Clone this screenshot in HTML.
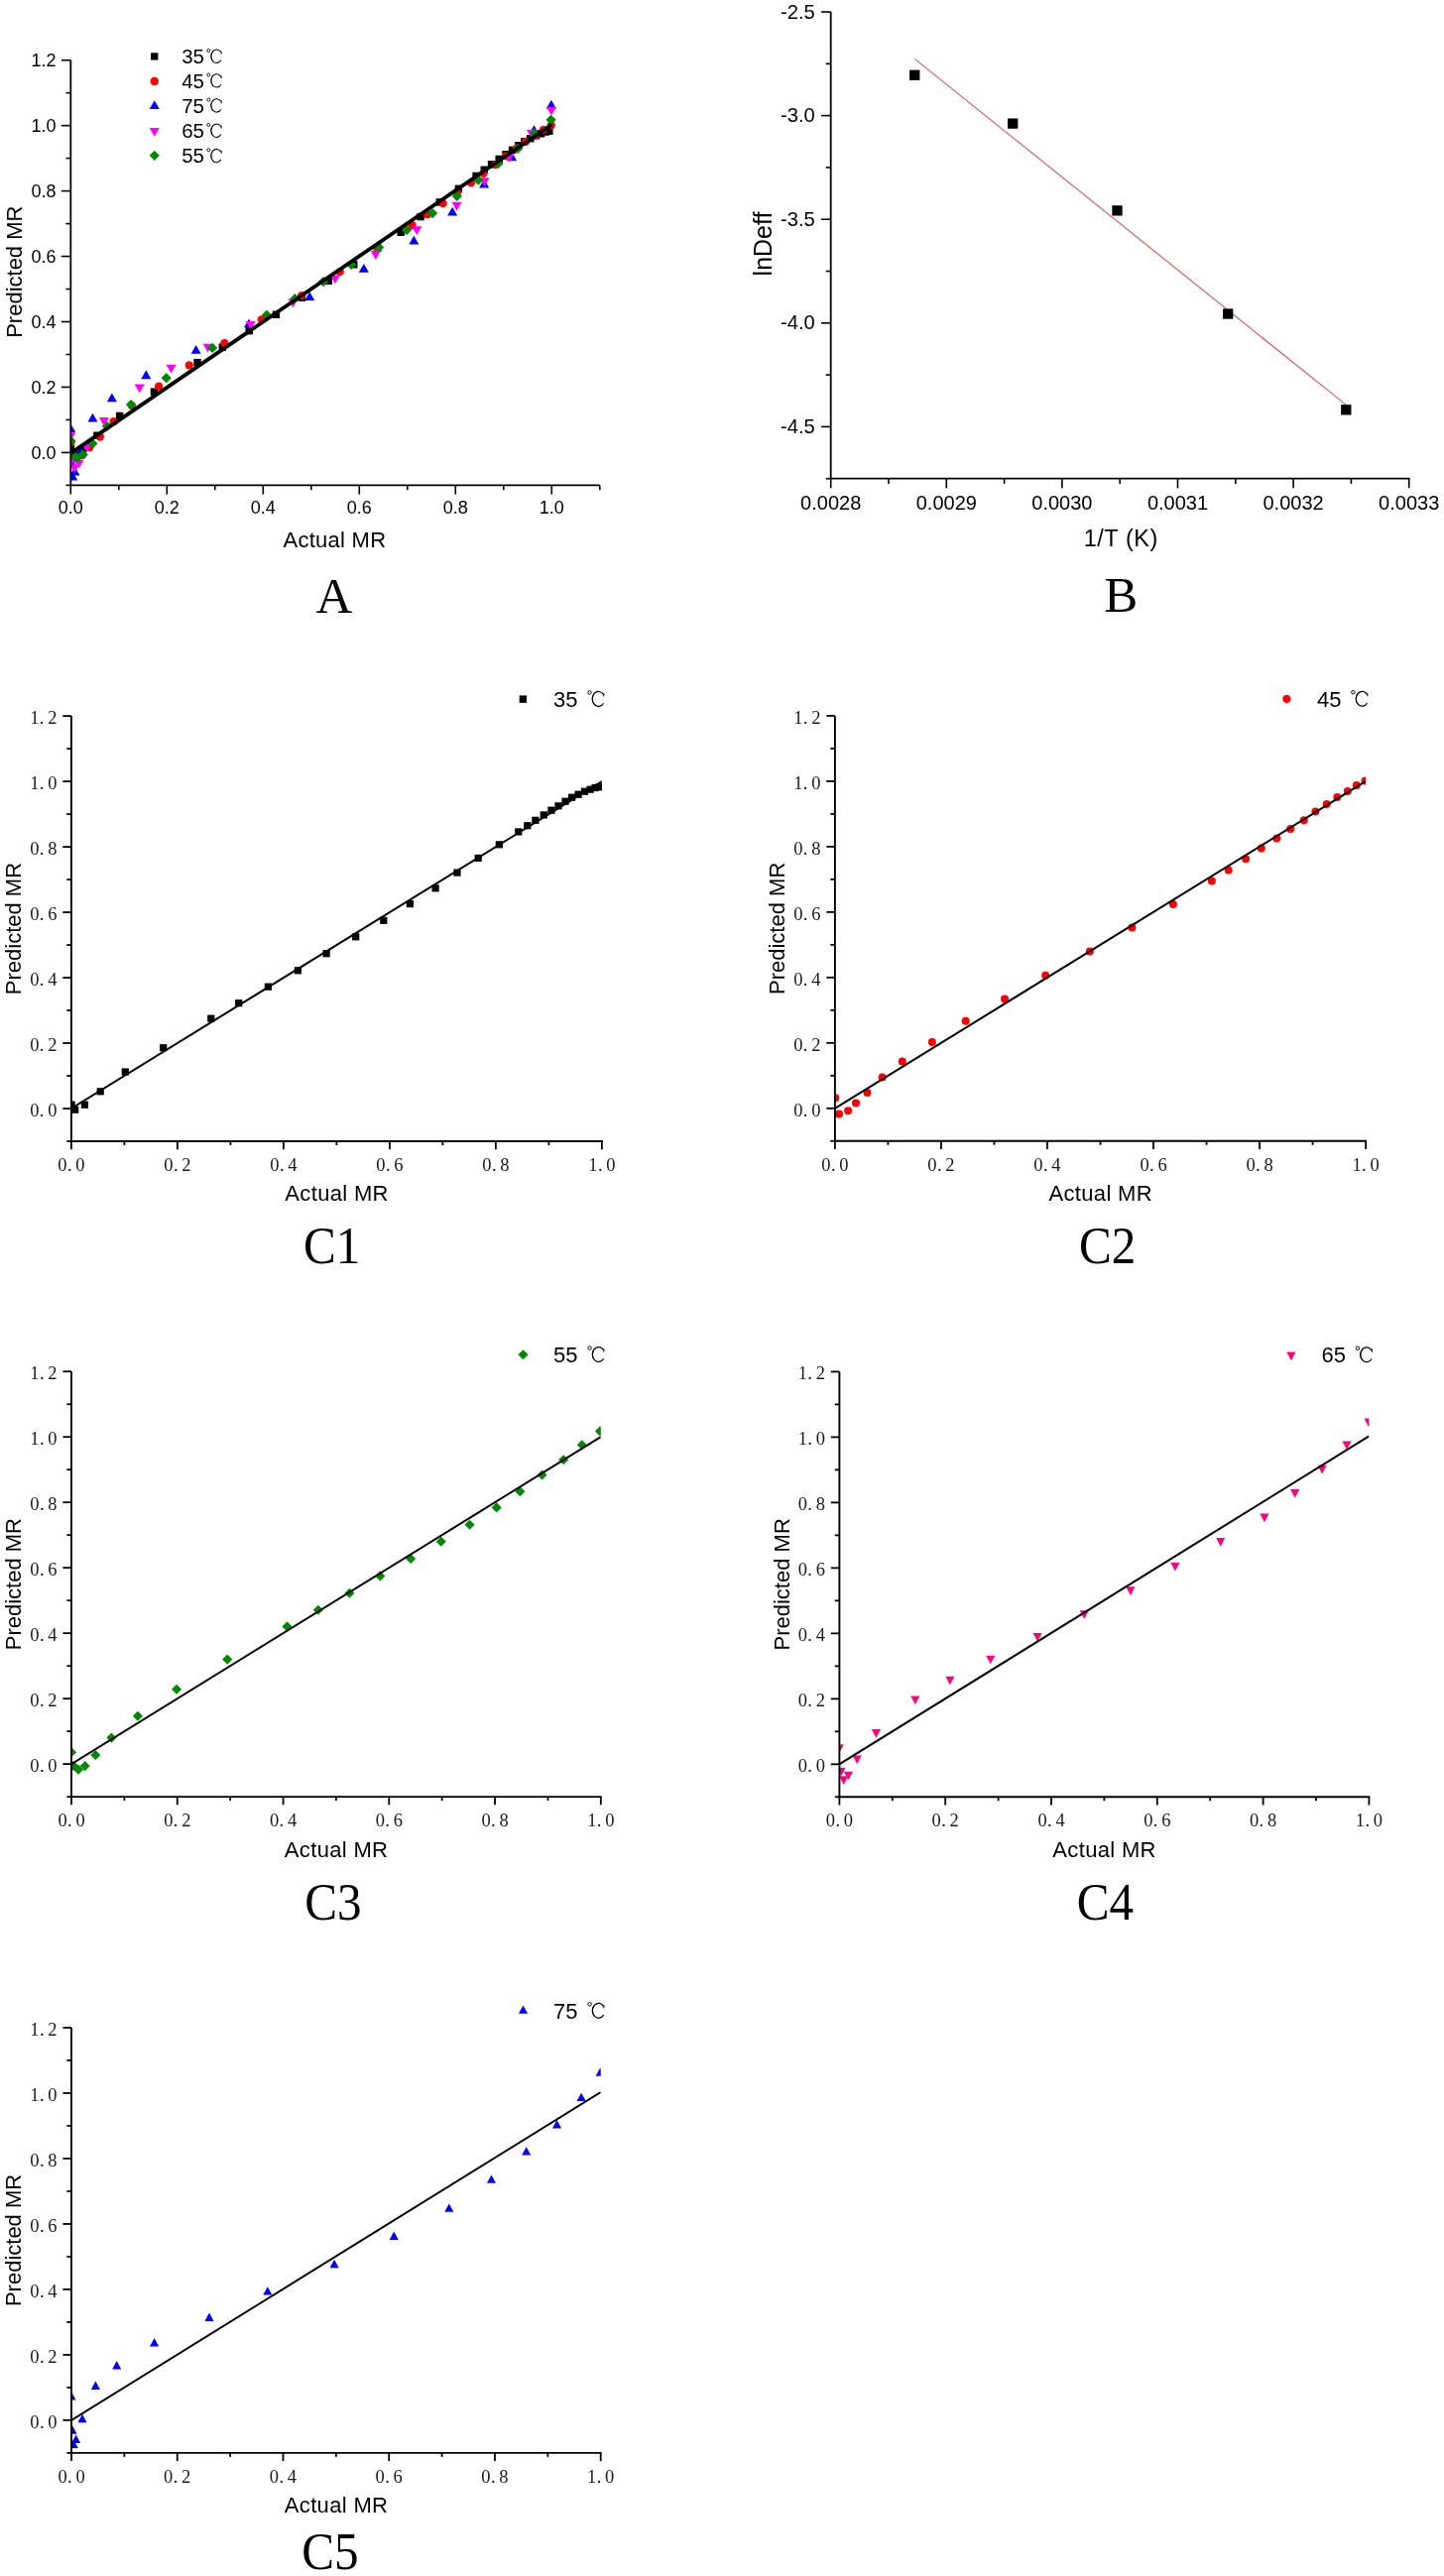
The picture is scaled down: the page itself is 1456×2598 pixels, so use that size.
<!DOCTYPE html>
<html><head><meta charset="utf-8"><title>Figure</title>
<style>
html,body{margin:0;padding:0;background:#fff;}
body{width:1456px;height:2598px;overflow:hidden;font-family:"Liberation Sans",sans-serif;}
svg{display:block;will-change:transform;}
</style></head><body>
<svg width="1456" height="2598" viewBox="0 0 1456 2598">
<rect width="1456" height="2598" fill="#fff"/>
<defs><clipPath id="clipA"><rect x="71.3" y="40.7" width="553.5" height="448.68"/></clipPath><clipPath id="clipC1"><rect x="71.9" y="722.12" width="535" height="428.87"/></clipPath><clipPath id="clipC2"><rect x="841.9" y="721.92" width="535.2" height="428.87"/></clipPath><clipPath id="clipC3"><rect x="72" y="1383.22" width="533.8" height="428.87"/></clipPath><clipPath id="clipC4"><rect x="846.4" y="1383.42" width="534" height="428.87"/></clipPath><clipPath id="clipC5"><rect x="72" y="2045.02" width="533.7" height="428.87"/></clipPath></defs>
<g clip-path="url(#clipA)"><rect x="67.78" y="448.8" width="7.4" height="7.4" fill="#000000"/><rect x="71.04" y="453.9" width="7.4" height="7.4" fill="#000000"/><rect x="79.84" y="448.9" width="7.4" height="7.4" fill="#000000"/><rect x="94.16" y="435.51" width="7.4" height="7.4" fill="#000000"/><rect x="116.92" y="415.72" width="7.4" height="7.4" fill="#000000"/><rect x="151.73" y="391.43" width="7.4" height="7.4" fill="#000000"/><rect x="195.33" y="361.94" width="7.4" height="7.4" fill="#000000"/><rect x="220.62" y="346.45" width="7.4" height="7.4" fill="#000000"/><rect x="247.55" y="329.96" width="7.4" height="7.4" fill="#000000"/><rect x="274.74" y="313.56" width="7.4" height="7.4" fill="#000000"/><rect x="300.76" y="296.47" width="7.4" height="7.4" fill="#000000"/><rect x="327.6" y="279.58" width="7.4" height="7.4" fill="#000000"/><rect x="353.07" y="263.09" width="7.4" height="7.4" fill="#000000"/><rect x="377.18" y="246.39" width="7.4" height="7.4" fill="#000000"/><rect x="400.48" y="230.6" width="7.4" height="7.4" fill="#000000"/><rect x="420.34" y="214.91" width="7.4" height="7.4" fill="#000000"/><rect x="439.55" y="200.21" width="7.4" height="7.4" fill="#000000"/><rect x="458.68" y="186.62" width="7.4" height="7.4" fill="#000000"/><rect x="476.36" y="173.73" width="7.4" height="7.4" fill="#000000"/><rect x="484.52" y="167.53" width="7.4" height="7.4" fill="#000000"/><rect x="491.86" y="162.13" width="7.4" height="7.4" fill="#000000"/><rect x="499.48" y="156.73" width="7.4" height="7.4" fill="#000000"/><rect x="506.37" y="152.04" width="7.4" height="7.4" fill="#000000"/><rect x="512.8" y="147.64" width="7.4" height="7.4" fill="#000000"/><rect x="519.15" y="143.04" width="7.4" height="7.4" fill="#000000"/><rect x="525.13" y="139.04" width="7.4" height="7.4" fill="#000000"/><rect x="531.02" y="136.04" width="7.4" height="7.4" fill="#000000"/><rect x="536.83" y="133.05" width="7.4" height="7.4" fill="#000000"/><rect x="541.9" y="131.05" width="7.4" height="7.4" fill="#000000"/><rect x="546.44" y="129.35" width="7.4" height="7.4" fill="#000000"/><rect x="550.15" y="128.55" width="7.4" height="7.4" fill="#000000"/><circle cx="71.66" cy="445.8" r="4.15" fill="#ff0000"/><circle cx="75.02" cy="462" r="4.15" fill="#ff0000"/><circle cx="83.26" cy="458.8" r="4.15" fill="#ff0000"/><circle cx="90.42" cy="451.1" r="4.15" fill="#ff0000"/><circle cx="100.84" cy="440.51" r="4.15" fill="#ff0000"/><circle cx="114.53" cy="425.21" r="4.15" fill="#ff0000"/><circle cx="132.83" cy="409.02" r="4.15" fill="#ff0000"/><circle cx="160.11" cy="389.63" r="4.15" fill="#ff0000"/><circle cx="190.74" cy="368.34" r="4.15" fill="#ff0000"/><circle cx="226.35" cy="346.05" r="4.15" fill="#ff0000"/><circle cx="263.69" cy="322.36" r="4.15" fill="#ff0000"/><circle cx="304.1" cy="298.17" r="4.15" fill="#ff0000"/><circle cx="342.71" cy="274.18" r="4.15" fill="#ff0000"/><circle cx="380.32" cy="250.59" r="4.15" fill="#ff0000"/><circle cx="415.66" cy="227.2" r="4.15" fill="#ff0000"/><circle cx="430.88" cy="216.21" r="4.15" fill="#ff0000"/><circle cx="446.65" cy="205.01" r="4.15" fill="#ff0000"/><circle cx="460.88" cy="194.22" r="4.15" fill="#ff0000"/><circle cx="474.92" cy="184.32" r="4.15" fill="#ff0000"/><circle cx="487.43" cy="174.83" r="4.15" fill="#ff0000"/><circle cx="499.75" cy="166.03" r="4.15" fill="#ff0000"/><circle cx="510.36" cy="157.34" r="4.15" fill="#ff0000"/><circle cx="520.6" cy="149.84" r="4.15" fill="#ff0000"/><circle cx="530.2" cy="142.64" r="4.15" fill="#ff0000"/><circle cx="539.72" cy="136.65" r="4.15" fill="#ff0000"/><circle cx="547.87" cy="130.85" r="4.15" fill="#ff0000"/><circle cx="555.76" cy="126.25" r="4.15" fill="#ff0000"/><path d="M71.25 427.31L76.3 436.11L66.2 436.11Z" fill="#0000ff"/><path d="M72.21 461.6L77.26 470.4L67.16 470.4Z" fill="#0000ff"/><path d="M75.48 470.79L80.53 479.59L70.43 479.59Z" fill="#0000ff"/><path d="M73.3 475.79L78.35 484.59L68.25 484.59Z" fill="#0000ff"/><path d="M81.3 450.1L86.35 458.9L76.25 458.9Z" fill="#0000ff"/><path d="M93.47 416.82L98.52 425.62L88.42 425.62Z" fill="#0000ff"/><path d="M112.83 396.43L117.88 405.23L107.78 405.23Z" fill="#0000ff"/><path d="M147.27 373.34L152.32 382.14L142.22 382.14Z" fill="#0000ff"/><path d="M197.62 347.95L202.67 356.75L192.57 356.75Z" fill="#0000ff"/><path d="M251.05 321.56L256.1 330.36L246 330.36Z" fill="#0000ff"/><path d="M312.21 294.17L317.26 302.97L307.16 302.97Z" fill="#0000ff"/><path d="M366.83 265.98L371.88 274.78L361.78 274.78Z" fill="#0000ff"/><path d="M417.35 237.8L422.4 246.6L412.3 246.6Z" fill="#0000ff"/><path d="M456.16 208.81L461.21 217.61L451.11 217.61Z" fill="#0000ff"/><path d="M488.14 180.62L493.19 189.42L483.09 189.42Z" fill="#0000ff"/><path d="M516.13 153.54L521.18 162.34L511.08 162.34Z" fill="#0000ff"/><path d="M538.49 126.15L543.54 134.95L533.44 134.95Z" fill="#0000ff"/><path d="M555.85 100.86L560.9 109.66L550.8 109.66Z" fill="#0000ff"/><path d="M66.16 436.21L76.26 436.21L71.21 445.01Z" fill="#ff00ff"/><path d="M67.79 459.7L77.89 459.7L72.84 468.5Z" fill="#ff00ff"/><path d="M74.42 463.69L84.52 463.69L79.47 472.49Z" fill="#ff00ff"/><path d="M70.16 468.29L80.26 468.29L75.21 477.09Z" fill="#ff00ff"/><path d="M82.42 447.5L92.52 447.5L87.47 456.3Z" fill="#ff00ff"/><path d="M99.85 421.11L109.95 421.11L104.9 429.91Z" fill="#ff00ff"/><path d="M135.64 387.53L145.74 387.53L140.69 396.33Z" fill="#ff00ff"/><path d="M167.52 367.74L177.62 367.74L172.57 376.54Z" fill="#ff00ff"/><path d="M204.57 346.75L214.67 346.75L209.62 355.55Z" fill="#ff00ff"/><path d="M247.63 324.06L257.73 324.06L252.68 332.86Z" fill="#ff00ff"/><path d="M290.4 301.37L300.5 301.37L295.45 310.17Z" fill="#ff00ff"/><path d="M332.82 277.38L342.92 277.38L337.87 286.18Z" fill="#ff00ff"/><path d="M373.69 253.09L383.79 253.09L378.74 261.89Z" fill="#ff00ff"/><path d="M415.29 228.2L425.39 228.2L420.34 237Z" fill="#ff00ff"/><path d="M455.43 203.71L465.53 203.71L460.48 212.51Z" fill="#ff00ff"/><path d="M483.4 179.22L493.5 179.22L488.45 188.02Z" fill="#ff00ff"/><path d="M508.29 154.94L518.39 154.94L513.34 163.74Z" fill="#ff00ff"/><path d="M530.91 130.65L541.01 130.65L535.96 139.45Z" fill="#ff00ff"/><path d="M550.89 107.76L560.99 107.76L555.94 116.56Z" fill="#ff00ff"/><path d="M71.3 439.46L76.45 444.61L71.3 449.76L66.15 444.61Z" fill="#008a00"/><path d="M73.39 453.15L78.54 458.3L73.39 463.45L68.24 458.3Z" fill="#008a00"/><path d="M77.66 456.85L82.81 462L77.66 467.15L72.51 462Z" fill="#008a00"/><path d="M83.75 453.25L88.9 458.4L83.75 463.55L78.6 458.4Z" fill="#008a00"/><path d="M93.38 442.15L98.53 447.3L93.38 452.45L88.23 447.3Z" fill="#008a00"/><path d="M108.01 424.76L113.16 429.91L108.01 435.06L102.86 429.91Z" fill="#008a00"/><path d="M132.08 402.97L137.23 408.12L132.08 413.27L126.93 408.12Z" fill="#008a00"/><path d="M167.7 375.98L172.85 381.13L167.7 386.28L162.55 381.13Z" fill="#008a00"/><path d="M214.13 345.8L219.28 350.95L214.13 356.1L208.98 350.95Z" fill="#008a00"/><path d="M268.92 312.61L274.07 317.76L268.92 322.91L263.77 317.76Z" fill="#008a00"/><path d="M297.35 296.02L302.5 301.17L297.35 306.32L292.2 301.17Z" fill="#008a00"/><path d="M326.07 278.93L331.22 284.08L326.07 289.23L320.92 284.08Z" fill="#008a00"/><path d="M354.14 261.64L359.29 266.79L354.14 271.94L348.99 266.79Z" fill="#008a00"/><path d="M382.13 244.24L387.28 249.39L382.13 254.54L376.98 249.39Z" fill="#008a00"/><path d="M410.02 226.95L415.17 232.1L410.02 237.25L404.87 232.1Z" fill="#008a00"/><path d="M436.09 209.96L441.24 215.11L436.09 220.26L430.94 215.11Z" fill="#008a00"/><path d="M460.81 192.67L465.96 197.82L460.81 202.97L455.66 197.82Z" fill="#008a00"/><path d="M482.34 176.57L487.49 181.72L482.34 186.87L477.19 181.72Z" fill="#008a00"/><path d="M502.51 159.78L507.66 164.93L502.51 170.08L497.36 164.93Z" fill="#008a00"/><path d="M522.14 144.59L527.29 149.74L522.14 154.89L516.99 149.74Z" fill="#008a00"/><path d="M539.04 129.5L544.19 134.65L539.04 139.8L533.89 134.65Z" fill="#008a00"/><path d="M555.57 115.7L560.72 120.85L555.57 126L550.42 120.85Z" fill="#008a00"/><line x1="71.3" y1="457.06" x2="556.3" y2="125.83" stroke="#000" stroke-width="3.8"/></g>
<line x1="71.3" y1="60.7" x2="71.3" y2="490.27" stroke="#000" stroke-width="1.8" stroke-linecap="butt"/>
<line x1="70.4" y1="489.38" x2="604.8" y2="489.38" stroke="#000" stroke-width="1.8" stroke-linecap="butt"/>
<line x1="66.5" y1="489.38" x2="71.3" y2="489.38" stroke="#000" stroke-width="1.6" stroke-linecap="butt"/>
<line x1="61.9" y1="456.4" x2="71.3" y2="456.4" stroke="#000" stroke-width="1.6" stroke-linecap="butt"/>
<line x1="66.5" y1="423.42" x2="71.3" y2="423.42" stroke="#000" stroke-width="1.6" stroke-linecap="butt"/>
<line x1="61.9" y1="390.45" x2="71.3" y2="390.45" stroke="#000" stroke-width="1.6" stroke-linecap="butt"/>
<line x1="66.5" y1="357.47" x2="71.3" y2="357.47" stroke="#000" stroke-width="1.6" stroke-linecap="butt"/>
<line x1="61.9" y1="324.5" x2="71.3" y2="324.5" stroke="#000" stroke-width="1.6" stroke-linecap="butt"/>
<line x1="66.5" y1="291.52" x2="71.3" y2="291.52" stroke="#000" stroke-width="1.6" stroke-linecap="butt"/>
<line x1="61.9" y1="258.55" x2="71.3" y2="258.55" stroke="#000" stroke-width="1.6" stroke-linecap="butt"/>
<line x1="66.5" y1="225.57" x2="71.3" y2="225.57" stroke="#000" stroke-width="1.6" stroke-linecap="butt"/>
<line x1="61.9" y1="192.6" x2="71.3" y2="192.6" stroke="#000" stroke-width="1.6" stroke-linecap="butt"/>
<line x1="66.5" y1="159.62" x2="71.3" y2="159.62" stroke="#000" stroke-width="1.6" stroke-linecap="butt"/>
<line x1="61.9" y1="126.65" x2="71.3" y2="126.65" stroke="#000" stroke-width="1.6" stroke-linecap="butt"/>
<line x1="66.5" y1="93.67" x2="71.3" y2="93.67" stroke="#000" stroke-width="1.6" stroke-linecap="butt"/>
<line x1="61.9" y1="60.7" x2="71.3" y2="60.7" stroke="#000" stroke-width="1.6" stroke-linecap="butt"/>
<text x="56.6" y="462.6" font-size="18" text-anchor="end" font-family='"Liberation Sans", sans-serif' fill="#000">0.0</text>
<text x="56.6" y="396.65" font-size="18" text-anchor="end" font-family='"Liberation Sans", sans-serif' fill="#000">0.2</text>
<text x="56.6" y="330.7" font-size="18" text-anchor="end" font-family='"Liberation Sans", sans-serif' fill="#000">0.4</text>
<text x="56.6" y="264.75" font-size="18" text-anchor="end" font-family='"Liberation Sans", sans-serif' fill="#000">0.6</text>
<text x="56.6" y="198.8" font-size="18" text-anchor="end" font-family='"Liberation Sans", sans-serif' fill="#000">0.8</text>
<text x="56.6" y="132.85" font-size="18" text-anchor="end" font-family='"Liberation Sans", sans-serif' fill="#000">1.0</text>
<text x="56.6" y="66.9" font-size="18" text-anchor="end" font-family='"Liberation Sans", sans-serif' fill="#000">1.2</text>
<line x1="71.3" y1="489.38" x2="71.3" y2="498.57" stroke="#000" stroke-width="1.6" stroke-linecap="butt"/>
<line x1="119.8" y1="489.38" x2="119.8" y2="494.18" stroke="#000" stroke-width="1.6" stroke-linecap="butt"/>
<line x1="168.3" y1="489.38" x2="168.3" y2="498.57" stroke="#000" stroke-width="1.6" stroke-linecap="butt"/>
<line x1="216.8" y1="489.38" x2="216.8" y2="494.18" stroke="#000" stroke-width="1.6" stroke-linecap="butt"/>
<line x1="265.3" y1="489.38" x2="265.3" y2="498.57" stroke="#000" stroke-width="1.6" stroke-linecap="butt"/>
<line x1="313.8" y1="489.38" x2="313.8" y2="494.18" stroke="#000" stroke-width="1.6" stroke-linecap="butt"/>
<line x1="362.3" y1="489.38" x2="362.3" y2="498.57" stroke="#000" stroke-width="1.6" stroke-linecap="butt"/>
<line x1="410.8" y1="489.38" x2="410.8" y2="494.18" stroke="#000" stroke-width="1.6" stroke-linecap="butt"/>
<line x1="459.3" y1="489.38" x2="459.3" y2="498.57" stroke="#000" stroke-width="1.6" stroke-linecap="butt"/>
<line x1="507.8" y1="489.38" x2="507.8" y2="494.18" stroke="#000" stroke-width="1.6" stroke-linecap="butt"/>
<line x1="556.3" y1="489.38" x2="556.3" y2="498.57" stroke="#000" stroke-width="1.6" stroke-linecap="butt"/>
<line x1="604.8" y1="489.38" x2="604.8" y2="494.18" stroke="#000" stroke-width="1.6" stroke-linecap="butt"/>
<text x="71.3" y="518.17" font-size="18" text-anchor="middle" font-family='"Liberation Sans", sans-serif' fill="#000">0.0</text>
<text x="168.3" y="518.17" font-size="18" text-anchor="middle" font-family='"Liberation Sans", sans-serif' fill="#000">0.2</text>
<text x="265.3" y="518.17" font-size="18" text-anchor="middle" font-family='"Liberation Sans", sans-serif' fill="#000">0.4</text>
<text x="362.3" y="518.17" font-size="18" text-anchor="middle" font-family='"Liberation Sans", sans-serif' fill="#000">0.6</text>
<text x="459.3" y="518.17" font-size="18" text-anchor="middle" font-family='"Liberation Sans", sans-serif' fill="#000">0.8</text>
<text x="556.3" y="518.17" font-size="18" text-anchor="middle" font-family='"Liberation Sans", sans-serif' fill="#000">1.0</text>
<text x="337.4" y="552.3" font-size="22" text-anchor="middle" font-family='"Liberation Sans", sans-serif' fill="#000" letter-spacing="0.27">Actual MR</text>
<text x="0" y="0" font-size="22" text-anchor="middle" font-family='"Liberation Sans", sans-serif' transform="translate(22.4 274.2) rotate(-90)">Predicted MR</text>
<rect x="152.1" y="53.25" width="7.3" height="7.3" fill="#000000"/>
<text x="183.2" y="64" font-size="20.5" text-anchor="start" font-family='"Liberation Sans", sans-serif' fill="#000">35</text>
<circle cx="210.3" cy="50.93" r="1.57" fill="none" stroke="#000" stroke-width="0.85"/><path d="M222.85 52.83A5.55 6.67 0 1 0 222.9 60.57" fill="none" stroke="#000" stroke-width="1.03"/><path d="M215.31 51.22A5.55 6.67 0 0 0 215.31 62.28" fill="none" stroke="#000" stroke-width="0.72"/><line x1="223.16" y1="51.58" x2="223.16" y2="54.62" stroke="#000" stroke-width="0.9"/>
<circle cx="155.75" cy="82.1" r="4.25" fill="#ff0000"/>
<text x="183.2" y="88.6" font-size="20.5" text-anchor="start" font-family='"Liberation Sans", sans-serif' fill="#000">45</text>
<circle cx="210.3" cy="75.53" r="1.57" fill="none" stroke="#000" stroke-width="0.85"/><path d="M222.85 77.43A5.55 6.67 0 1 0 222.9 85.17" fill="none" stroke="#000" stroke-width="1.03"/><path d="M215.31 75.82A5.55 6.67 0 0 0 215.31 86.88" fill="none" stroke="#000" stroke-width="0.72"/><line x1="223.16" y1="76.18" x2="223.16" y2="79.22" stroke="#000" stroke-width="0.9"/>
<path d="M155.75 101.25L160.8 109.95L150.7 109.95Z" fill="#0000ff"/>
<text x="183.2" y="113.7" font-size="20.5" text-anchor="start" font-family='"Liberation Sans", sans-serif' fill="#000">75</text>
<circle cx="210.3" cy="100.63" r="1.57" fill="none" stroke="#000" stroke-width="0.85"/><path d="M222.85 102.53A5.55 6.67 0 1 0 222.9 110.27" fill="none" stroke="#000" stroke-width="1.03"/><path d="M215.31 100.92A5.55 6.67 0 0 0 215.31 111.98" fill="none" stroke="#000" stroke-width="0.72"/><line x1="223.16" y1="101.28" x2="223.16" y2="104.32" stroke="#000" stroke-width="0.9"/>
<path d="M150.7 128.95L160.8 128.95L155.75 137.65Z" fill="#ff00ff"/>
<text x="183.2" y="139" font-size="20.5" text-anchor="start" font-family='"Liberation Sans", sans-serif' fill="#000">65</text>
<circle cx="210.3" cy="125.93" r="1.57" fill="none" stroke="#000" stroke-width="0.85"/><path d="M222.85 127.83A5.55 6.67 0 1 0 222.9 135.57" fill="none" stroke="#000" stroke-width="1.03"/><path d="M215.31 126.22A5.55 6.67 0 0 0 215.31 137.28" fill="none" stroke="#000" stroke-width="0.72"/><line x1="223.16" y1="126.58" x2="223.16" y2="129.62" stroke="#000" stroke-width="0.9"/>
<path d="M155.75 151.7L160.8 156.8L155.75 161.9L150.7 156.8Z" fill="#008a00"/>
<text x="183.2" y="164.3" font-size="20.5" text-anchor="start" font-family='"Liberation Sans", sans-serif' fill="#000">55</text>
<circle cx="210.3" cy="151.23" r="1.57" fill="none" stroke="#000" stroke-width="0.85"/><path d="M222.85 153.13A5.55 6.67 0 1 0 222.9 160.87" fill="none" stroke="#000" stroke-width="1.03"/><path d="M215.31 151.52A5.55 6.67 0 0 0 215.31 162.58" fill="none" stroke="#000" stroke-width="0.72"/><line x1="223.16" y1="151.88" x2="223.16" y2="154.92" stroke="#000" stroke-width="0.9"/>
<text x="336.8" y="617.6" font-size="51" text-anchor="middle" font-family='"Liberation Serif", serif' fill="#000">A</text>
<line x1="922.3" y1="59.4" x2="1357.3" y2="408.4" stroke="#e25e5e" stroke-width="1.2" stroke-linecap="butt"/>
<rect x="917.1" y="70.6" width="10.3" height="10.3" fill="#000"/>
<rect x="1016.05" y="119.45" width="10.3" height="10.3" fill="#000"/>
<rect x="1121.35" y="207.25" width="10.3" height="10.3" fill="#000"/>
<rect x="1233.05" y="311.35" width="10.3" height="10.3" fill="#000"/>
<rect x="1352.15" y="408.15" width="10.3" height="10.3" fill="#000"/>
<line x1="837.7" y1="12" x2="837.7" y2="483.6" stroke="#000" stroke-width="1.8" stroke-linecap="butt"/>
<line x1="836.8" y1="482.7" x2="1421.6" y2="482.7" stroke="#000" stroke-width="1.8" stroke-linecap="butt"/>
<line x1="828.1" y1="12" x2="837.7" y2="12" stroke="#000" stroke-width="1.6" stroke-linecap="butt"/>
<line x1="832.7" y1="64.3" x2="837.7" y2="64.3" stroke="#000" stroke-width="1.6" stroke-linecap="butt"/>
<line x1="828.1" y1="116.6" x2="837.7" y2="116.6" stroke="#000" stroke-width="1.6" stroke-linecap="butt"/>
<line x1="832.7" y1="168.9" x2="837.7" y2="168.9" stroke="#000" stroke-width="1.6" stroke-linecap="butt"/>
<line x1="828.1" y1="221.2" x2="837.7" y2="221.2" stroke="#000" stroke-width="1.6" stroke-linecap="butt"/>
<line x1="832.7" y1="273.5" x2="837.7" y2="273.5" stroke="#000" stroke-width="1.6" stroke-linecap="butt"/>
<line x1="828.1" y1="325.8" x2="837.7" y2="325.8" stroke="#000" stroke-width="1.6" stroke-linecap="butt"/>
<line x1="832.7" y1="378.1" x2="837.7" y2="378.1" stroke="#000" stroke-width="1.6" stroke-linecap="butt"/>
<line x1="828.1" y1="430.4" x2="837.7" y2="430.4" stroke="#000" stroke-width="1.6" stroke-linecap="butt"/>
<line x1="832.7" y1="482.7" x2="837.7" y2="482.7" stroke="#000" stroke-width="1.6" stroke-linecap="butt"/>
<text x="821.8" y="18.6" font-size="20.2" text-anchor="end" font-family='"Liberation Sans", sans-serif' fill="#000">-2.5</text>
<text x="821.8" y="123.2" font-size="20.2" text-anchor="end" font-family='"Liberation Sans", sans-serif' fill="#000">-3.0</text>
<text x="821.8" y="227.8" font-size="20.2" text-anchor="end" font-family='"Liberation Sans", sans-serif' fill="#000">-3.5</text>
<text x="821.8" y="332.4" font-size="20.2" text-anchor="end" font-family='"Liberation Sans", sans-serif' fill="#000">-4.0</text>
<text x="821.8" y="437" font-size="20.2" text-anchor="end" font-family='"Liberation Sans", sans-serif' fill="#000">-4.5</text>
<line x1="837.7" y1="482.7" x2="837.7" y2="492.3" stroke="#000" stroke-width="1.6" stroke-linecap="butt"/>
<line x1="896" y1="482.7" x2="896" y2="487.9" stroke="#000" stroke-width="1.6" stroke-linecap="butt"/>
<line x1="954.3" y1="482.7" x2="954.3" y2="492.3" stroke="#000" stroke-width="1.6" stroke-linecap="butt"/>
<line x1="1012.6" y1="482.7" x2="1012.6" y2="487.9" stroke="#000" stroke-width="1.6" stroke-linecap="butt"/>
<line x1="1070.9" y1="482.7" x2="1070.9" y2="492.3" stroke="#000" stroke-width="1.6" stroke-linecap="butt"/>
<line x1="1129.2" y1="482.7" x2="1129.2" y2="487.9" stroke="#000" stroke-width="1.6" stroke-linecap="butt"/>
<line x1="1187.5" y1="482.7" x2="1187.5" y2="492.3" stroke="#000" stroke-width="1.6" stroke-linecap="butt"/>
<line x1="1245.8" y1="482.7" x2="1245.8" y2="487.9" stroke="#000" stroke-width="1.6" stroke-linecap="butt"/>
<line x1="1304.1" y1="482.7" x2="1304.1" y2="492.3" stroke="#000" stroke-width="1.6" stroke-linecap="butt"/>
<line x1="1362.4" y1="482.7" x2="1362.4" y2="487.9" stroke="#000" stroke-width="1.6" stroke-linecap="butt"/>
<line x1="1420.7" y1="482.7" x2="1420.7" y2="492.3" stroke="#000" stroke-width="1.6" stroke-linecap="butt"/>
<text x="837.7" y="513.5" font-size="20" text-anchor="middle" font-family='"Liberation Sans", sans-serif' fill="#000">0.0028</text>
<text x="954.3" y="513.5" font-size="20" text-anchor="middle" font-family='"Liberation Sans", sans-serif' fill="#000">0.0029</text>
<text x="1070.9" y="513.5" font-size="20" text-anchor="middle" font-family='"Liberation Sans", sans-serif' fill="#000">0.0030</text>
<text x="1187.5" y="513.5" font-size="20" text-anchor="middle" font-family='"Liberation Sans", sans-serif' fill="#000">0.0031</text>
<text x="1304.1" y="513.5" font-size="20" text-anchor="middle" font-family='"Liberation Sans", sans-serif' fill="#000">0.0032</text>
<text x="1420.7" y="513.5" font-size="20" text-anchor="middle" font-family='"Liberation Sans", sans-serif' fill="#000">0.0033</text>
<text x="1130.3" y="551.2" font-size="23.5" text-anchor="middle" font-family='"Liberation Sans", sans-serif' fill="#000" letter-spacing="0.55">1/T (K)</text>
<text x="0" y="0" font-size="25" text-anchor="middle" font-family='"Liberation Sans", sans-serif' transform="translate(777.9 246.0) rotate(-90)">lnDeff</text>
<text x="1130.3" y="617.4" font-size="51" text-anchor="middle" font-family='"Liberation Serif", serif' fill="#000">B</text>
<g clip-path="url(#clipC1)"><rect x="68.5" y="1110.5" width="7.2" height="7.2" fill="#000000"/><rect x="72.1" y="1115.6" width="7.2" height="7.2" fill="#000000"/><rect x="81.8" y="1110.6" width="7.2" height="7.2" fill="#000000"/><rect x="97.6" y="1097.2" width="7.2" height="7.2" fill="#000000"/><rect x="122.7" y="1077.4" width="7.2" height="7.2" fill="#000000"/><rect x="161.1" y="1053.1" width="7.2" height="7.2" fill="#000000"/><rect x="209.2" y="1023.6" width="7.2" height="7.2" fill="#000000"/><rect x="237.1" y="1008.1" width="7.2" height="7.2" fill="#000000"/><rect x="266.8" y="991.6" width="7.2" height="7.2" fill="#000000"/><rect x="296.8" y="975.2" width="7.2" height="7.2" fill="#000000"/><rect x="325.5" y="958.1" width="7.2" height="7.2" fill="#000000"/><rect x="355.1" y="941.2" width="7.2" height="7.2" fill="#000000"/><rect x="383.2" y="924.7" width="7.2" height="7.2" fill="#000000"/><rect x="409.8" y="908" width="7.2" height="7.2" fill="#000000"/><rect x="435.5" y="892.2" width="7.2" height="7.2" fill="#000000"/><rect x="457.4" y="876.5" width="7.2" height="7.2" fill="#000000"/><rect x="478.6" y="861.8" width="7.2" height="7.2" fill="#000000"/><rect x="499.7" y="848.2" width="7.2" height="7.2" fill="#000000"/><rect x="519.2" y="835.3" width="7.2" height="7.2" fill="#000000"/><rect x="528.2" y="829.1" width="7.2" height="7.2" fill="#000000"/><rect x="536.3" y="823.7" width="7.2" height="7.2" fill="#000000"/><rect x="544.7" y="818.3" width="7.2" height="7.2" fill="#000000"/><rect x="552.3" y="813.6" width="7.2" height="7.2" fill="#000000"/><rect x="559.4" y="809.2" width="7.2" height="7.2" fill="#000000"/><rect x="566.4" y="804.6" width="7.2" height="7.2" fill="#000000"/><rect x="573" y="800.6" width="7.2" height="7.2" fill="#000000"/><rect x="579.5" y="797.6" width="7.2" height="7.2" fill="#000000"/><rect x="585.9" y="794.6" width="7.2" height="7.2" fill="#000000"/><rect x="591.5" y="792.6" width="7.2" height="7.2" fill="#000000"/><rect x="596.5" y="790.9" width="7.2" height="7.2" fill="#000000"/><rect x="600.6" y="790.1" width="7.2" height="7.2" fill="#000000"/><line x1="71.9" y1="1118" x2="606.9" y2="788.1" stroke="#000" stroke-width="2"/></g>
<line x1="71.9" y1="722.12" x2="71.9" y2="1151.94" stroke="#000" stroke-width="1.9" stroke-linecap="butt"/>
<line x1="70.95" y1="1150.99" x2="607.85" y2="1150.99" stroke="#000" stroke-width="1.9" stroke-linecap="butt"/>
<line x1="67.3" y1="1150.99" x2="71.9" y2="1150.99" stroke="#000" stroke-width="1.8" stroke-linecap="butt"/>
<line x1="63.3" y1="1118" x2="71.9" y2="1118" stroke="#000" stroke-width="1.8" stroke-linecap="butt"/>
<line x1="67.3" y1="1085.01" x2="71.9" y2="1085.01" stroke="#000" stroke-width="1.8" stroke-linecap="butt"/>
<line x1="63.3" y1="1052.02" x2="71.9" y2="1052.02" stroke="#000" stroke-width="1.8" stroke-linecap="butt"/>
<line x1="67.3" y1="1019.03" x2="71.9" y2="1019.03" stroke="#000" stroke-width="1.8" stroke-linecap="butt"/>
<line x1="63.3" y1="986.04" x2="71.9" y2="986.04" stroke="#000" stroke-width="1.8" stroke-linecap="butt"/>
<line x1="67.3" y1="953.05" x2="71.9" y2="953.05" stroke="#000" stroke-width="1.8" stroke-linecap="butt"/>
<line x1="63.3" y1="920.06" x2="71.9" y2="920.06" stroke="#000" stroke-width="1.8" stroke-linecap="butt"/>
<line x1="67.3" y1="887.07" x2="71.9" y2="887.07" stroke="#000" stroke-width="1.8" stroke-linecap="butt"/>
<line x1="63.3" y1="854.08" x2="71.9" y2="854.08" stroke="#000" stroke-width="1.8" stroke-linecap="butt"/>
<line x1="67.3" y1="821.09" x2="71.9" y2="821.09" stroke="#000" stroke-width="1.8" stroke-linecap="butt"/>
<line x1="63.3" y1="788.1" x2="71.9" y2="788.1" stroke="#000" stroke-width="1.8" stroke-linecap="butt"/>
<line x1="67.3" y1="755.11" x2="71.9" y2="755.11" stroke="#000" stroke-width="1.8" stroke-linecap="butt"/>
<line x1="63.3" y1="722.12" x2="71.9" y2="722.12" stroke="#000" stroke-width="1.8" stroke-linecap="butt"/>
<text x="34.8" y="1126" font-size="18.5" text-anchor="middle" font-family='"Liberation Serif", serif' fill="#1a1a1a">0</text><text x="42.1" y="1126" font-size="18.5" text-anchor="middle" font-family='"Liberation Serif", serif' fill="#1a1a1a">.</text><text x="52.8" y="1126" font-size="18.5" text-anchor="middle" font-family='"Liberation Serif", serif' fill="#1a1a1a">0</text>
<text x="34.8" y="1060.02" font-size="18.5" text-anchor="middle" font-family='"Liberation Serif", serif' fill="#1a1a1a">0</text><text x="42.1" y="1060.02" font-size="18.5" text-anchor="middle" font-family='"Liberation Serif", serif' fill="#1a1a1a">.</text><text x="52.8" y="1060.02" font-size="18.5" text-anchor="middle" font-family='"Liberation Serif", serif' fill="#1a1a1a">2</text>
<text x="34.8" y="994.04" font-size="18.5" text-anchor="middle" font-family='"Liberation Serif", serif' fill="#1a1a1a">0</text><text x="42.1" y="994.04" font-size="18.5" text-anchor="middle" font-family='"Liberation Serif", serif' fill="#1a1a1a">.</text><text x="52.8" y="994.04" font-size="18.5" text-anchor="middle" font-family='"Liberation Serif", serif' fill="#1a1a1a">4</text>
<text x="34.8" y="928.06" font-size="18.5" text-anchor="middle" font-family='"Liberation Serif", serif' fill="#1a1a1a">0</text><text x="42.1" y="928.06" font-size="18.5" text-anchor="middle" font-family='"Liberation Serif", serif' fill="#1a1a1a">.</text><text x="52.8" y="928.06" font-size="18.5" text-anchor="middle" font-family='"Liberation Serif", serif' fill="#1a1a1a">6</text>
<text x="34.8" y="862.08" font-size="18.5" text-anchor="middle" font-family='"Liberation Serif", serif' fill="#1a1a1a">0</text><text x="42.1" y="862.08" font-size="18.5" text-anchor="middle" font-family='"Liberation Serif", serif' fill="#1a1a1a">.</text><text x="52.8" y="862.08" font-size="18.5" text-anchor="middle" font-family='"Liberation Serif", serif' fill="#1a1a1a">8</text>
<text x="34.8" y="796.1" font-size="18.5" text-anchor="middle" font-family='"Liberation Serif", serif' fill="#1a1a1a">1</text><text x="42.1" y="796.1" font-size="18.5" text-anchor="middle" font-family='"Liberation Serif", serif' fill="#1a1a1a">.</text><text x="52.8" y="796.1" font-size="18.5" text-anchor="middle" font-family='"Liberation Serif", serif' fill="#1a1a1a">0</text>
<text x="34.8" y="730.12" font-size="18.5" text-anchor="middle" font-family='"Liberation Serif", serif' fill="#1a1a1a">1</text><text x="42.1" y="730.12" font-size="18.5" text-anchor="middle" font-family='"Liberation Serif", serif' fill="#1a1a1a">.</text><text x="52.8" y="730.12" font-size="18.5" text-anchor="middle" font-family='"Liberation Serif", serif' fill="#1a1a1a">2</text>
<line x1="71.9" y1="1150.99" x2="71.9" y2="1159.19" stroke="#000" stroke-width="1.8" stroke-linecap="butt"/>
<line x1="125.4" y1="1150.99" x2="125.4" y2="1154.99" stroke="#000" stroke-width="1.8" stroke-linecap="butt"/>
<line x1="178.9" y1="1150.99" x2="178.9" y2="1159.19" stroke="#000" stroke-width="1.8" stroke-linecap="butt"/>
<line x1="232.4" y1="1150.99" x2="232.4" y2="1154.99" stroke="#000" stroke-width="1.8" stroke-linecap="butt"/>
<line x1="285.9" y1="1150.99" x2="285.9" y2="1159.19" stroke="#000" stroke-width="1.8" stroke-linecap="butt"/>
<line x1="339.4" y1="1150.99" x2="339.4" y2="1154.99" stroke="#000" stroke-width="1.8" stroke-linecap="butt"/>
<line x1="392.9" y1="1150.99" x2="392.9" y2="1159.19" stroke="#000" stroke-width="1.8" stroke-linecap="butt"/>
<line x1="446.4" y1="1150.99" x2="446.4" y2="1154.99" stroke="#000" stroke-width="1.8" stroke-linecap="butt"/>
<line x1="499.9" y1="1150.99" x2="499.9" y2="1159.19" stroke="#000" stroke-width="1.8" stroke-linecap="butt"/>
<line x1="553.4" y1="1150.99" x2="553.4" y2="1154.99" stroke="#000" stroke-width="1.8" stroke-linecap="butt"/>
<line x1="606.9" y1="1150.99" x2="606.9" y2="1159.19" stroke="#000" stroke-width="1.8" stroke-linecap="butt"/>
<text x="62.9" y="1180.79" font-size="18.5" text-anchor="middle" font-family='"Liberation Serif", serif' fill="#1a1a1a">0</text><text x="70.2" y="1180.79" font-size="18.5" text-anchor="middle" font-family='"Liberation Serif", serif' fill="#1a1a1a">.</text><text x="80.9" y="1180.79" font-size="18.5" text-anchor="middle" font-family='"Liberation Serif", serif' fill="#1a1a1a">0</text>
<text x="169.9" y="1180.79" font-size="18.5" text-anchor="middle" font-family='"Liberation Serif", serif' fill="#1a1a1a">0</text><text x="177.2" y="1180.79" font-size="18.5" text-anchor="middle" font-family='"Liberation Serif", serif' fill="#1a1a1a">.</text><text x="187.9" y="1180.79" font-size="18.5" text-anchor="middle" font-family='"Liberation Serif", serif' fill="#1a1a1a">2</text>
<text x="276.9" y="1180.79" font-size="18.5" text-anchor="middle" font-family='"Liberation Serif", serif' fill="#1a1a1a">0</text><text x="284.2" y="1180.79" font-size="18.5" text-anchor="middle" font-family='"Liberation Serif", serif' fill="#1a1a1a">.</text><text x="294.9" y="1180.79" font-size="18.5" text-anchor="middle" font-family='"Liberation Serif", serif' fill="#1a1a1a">4</text>
<text x="383.9" y="1180.79" font-size="18.5" text-anchor="middle" font-family='"Liberation Serif", serif' fill="#1a1a1a">0</text><text x="391.2" y="1180.79" font-size="18.5" text-anchor="middle" font-family='"Liberation Serif", serif' fill="#1a1a1a">.</text><text x="401.9" y="1180.79" font-size="18.5" text-anchor="middle" font-family='"Liberation Serif", serif' fill="#1a1a1a">6</text>
<text x="490.9" y="1180.79" font-size="18.5" text-anchor="middle" font-family='"Liberation Serif", serif' fill="#1a1a1a">0</text><text x="498.2" y="1180.79" font-size="18.5" text-anchor="middle" font-family='"Liberation Serif", serif' fill="#1a1a1a">.</text><text x="508.9" y="1180.79" font-size="18.5" text-anchor="middle" font-family='"Liberation Serif", serif' fill="#1a1a1a">8</text>
<text x="597.9" y="1180.79" font-size="18.5" text-anchor="middle" font-family='"Liberation Serif", serif' fill="#1a1a1a">1</text><text x="605.2" y="1180.79" font-size="18.5" text-anchor="middle" font-family='"Liberation Serif", serif' fill="#1a1a1a">.</text><text x="615.9" y="1180.79" font-size="18.5" text-anchor="middle" font-family='"Liberation Serif", serif' fill="#1a1a1a">0</text>
<text x="339.6" y="1211.49" font-size="22" text-anchor="middle" font-family='"Liberation Sans", sans-serif' fill="#000" letter-spacing="0.33">Actual MR</text>
<text x="0" y="0" font-size="22" text-anchor="middle" font-family='"Liberation Sans", sans-serif' transform="translate(21 936.56) rotate(-90)">Predicted MR</text>
<rect x="523.7" y="701.42" width="7.4" height="7.4" fill="#000000"/>
<text x="557.9" y="713.02" font-size="22" text-anchor="start" font-family='"Liberation Sans", sans-serif' fill="#000">35</text>
<circle cx="594.45" cy="698.42" r="1.75" fill="none" stroke="#000" stroke-width="0.95"/><path d="M608.47 700.54A6.2 7.45 0 1 0 608.53 709.19" fill="none" stroke="#000" stroke-width="1.25"/><path d="M600.04 698.74A6.2 7.45 0 0 0 600.04 711.1" fill="none" stroke="#000" stroke-width="0.88"/><line x1="608.82" y1="699.14" x2="608.82" y2="702.54" stroke="#000" stroke-width="1"/>
<text x="334.75" y="1273.7" font-size="51.8" text-anchor="middle" font-family='"Liberation Serif", serif' fill="#000" transform="translate(334.75 0) scale(0.95 1) translate(-334.75 0)">C1</text>
<g clip-path="url(#clipC2)"><circle cx="842.3" cy="1107.2" r="4" fill="#ff0000"/><circle cx="846" cy="1123.4" r="4" fill="#ff0000"/><circle cx="855.1" cy="1120.2" r="4" fill="#ff0000"/><circle cx="863" cy="1112.5" r="4" fill="#ff0000"/><circle cx="874.5" cy="1101.9" r="4" fill="#ff0000"/><circle cx="889.6" cy="1086.6" r="4" fill="#ff0000"/><circle cx="909.8" cy="1070.4" r="4" fill="#ff0000"/><circle cx="939.9" cy="1051" r="4" fill="#ff0000"/><circle cx="973.7" cy="1029.7" r="4" fill="#ff0000"/><circle cx="1013" cy="1007.4" r="4" fill="#ff0000"/><circle cx="1054.2" cy="983.7" r="4" fill="#ff0000"/><circle cx="1098.8" cy="959.5" r="4" fill="#ff0000"/><circle cx="1141.4" cy="935.5" r="4" fill="#ff0000"/><circle cx="1182.9" cy="911.9" r="4" fill="#ff0000"/><circle cx="1221.9" cy="888.5" r="4" fill="#ff0000"/><circle cx="1238.7" cy="877.5" r="4" fill="#ff0000"/><circle cx="1256.1" cy="866.3" r="4" fill="#ff0000"/><circle cx="1271.8" cy="855.5" r="4" fill="#ff0000"/><circle cx="1287.3" cy="845.6" r="4" fill="#ff0000"/><circle cx="1301.1" cy="836.1" r="4" fill="#ff0000"/><circle cx="1314.7" cy="827.3" r="4" fill="#ff0000"/><circle cx="1326.4" cy="818.6" r="4" fill="#ff0000"/><circle cx="1337.7" cy="811.1" r="4" fill="#ff0000"/><circle cx="1348.3" cy="803.9" r="4" fill="#ff0000"/><circle cx="1358.8" cy="797.9" r="4" fill="#ff0000"/><circle cx="1367.8" cy="792.1" r="4" fill="#ff0000"/><circle cx="1376.5" cy="787.5" r="4" fill="#ff0000"/><line x1="841.9" y1="1117.8" x2="1377.1" y2="787.9" stroke="#000" stroke-width="2"/></g>
<line x1="841.9" y1="721.92" x2="841.9" y2="1151.74" stroke="#000" stroke-width="1.9" stroke-linecap="butt"/>
<line x1="840.95" y1="1150.79" x2="1378.05" y2="1150.79" stroke="#000" stroke-width="1.9" stroke-linecap="butt"/>
<line x1="837.3" y1="1150.79" x2="841.9" y2="1150.79" stroke="#000" stroke-width="1.8" stroke-linecap="butt"/>
<line x1="833.3" y1="1117.8" x2="841.9" y2="1117.8" stroke="#000" stroke-width="1.8" stroke-linecap="butt"/>
<line x1="837.3" y1="1084.81" x2="841.9" y2="1084.81" stroke="#000" stroke-width="1.8" stroke-linecap="butt"/>
<line x1="833.3" y1="1051.82" x2="841.9" y2="1051.82" stroke="#000" stroke-width="1.8" stroke-linecap="butt"/>
<line x1="837.3" y1="1018.83" x2="841.9" y2="1018.83" stroke="#000" stroke-width="1.8" stroke-linecap="butt"/>
<line x1="833.3" y1="985.84" x2="841.9" y2="985.84" stroke="#000" stroke-width="1.8" stroke-linecap="butt"/>
<line x1="837.3" y1="952.85" x2="841.9" y2="952.85" stroke="#000" stroke-width="1.8" stroke-linecap="butt"/>
<line x1="833.3" y1="919.86" x2="841.9" y2="919.86" stroke="#000" stroke-width="1.8" stroke-linecap="butt"/>
<line x1="837.3" y1="886.87" x2="841.9" y2="886.87" stroke="#000" stroke-width="1.8" stroke-linecap="butt"/>
<line x1="833.3" y1="853.88" x2="841.9" y2="853.88" stroke="#000" stroke-width="1.8" stroke-linecap="butt"/>
<line x1="837.3" y1="820.89" x2="841.9" y2="820.89" stroke="#000" stroke-width="1.8" stroke-linecap="butt"/>
<line x1="833.3" y1="787.9" x2="841.9" y2="787.9" stroke="#000" stroke-width="1.8" stroke-linecap="butt"/>
<line x1="837.3" y1="754.91" x2="841.9" y2="754.91" stroke="#000" stroke-width="1.8" stroke-linecap="butt"/>
<line x1="833.3" y1="721.92" x2="841.9" y2="721.92" stroke="#000" stroke-width="1.8" stroke-linecap="butt"/>
<text x="804.8" y="1125.8" font-size="18.5" text-anchor="middle" font-family='"Liberation Serif", serif' fill="#1a1a1a">0</text><text x="812.1" y="1125.8" font-size="18.5" text-anchor="middle" font-family='"Liberation Serif", serif' fill="#1a1a1a">.</text><text x="822.8" y="1125.8" font-size="18.5" text-anchor="middle" font-family='"Liberation Serif", serif' fill="#1a1a1a">0</text>
<text x="804.8" y="1059.82" font-size="18.5" text-anchor="middle" font-family='"Liberation Serif", serif' fill="#1a1a1a">0</text><text x="812.1" y="1059.82" font-size="18.5" text-anchor="middle" font-family='"Liberation Serif", serif' fill="#1a1a1a">.</text><text x="822.8" y="1059.82" font-size="18.5" text-anchor="middle" font-family='"Liberation Serif", serif' fill="#1a1a1a">2</text>
<text x="804.8" y="993.84" font-size="18.5" text-anchor="middle" font-family='"Liberation Serif", serif' fill="#1a1a1a">0</text><text x="812.1" y="993.84" font-size="18.5" text-anchor="middle" font-family='"Liberation Serif", serif' fill="#1a1a1a">.</text><text x="822.8" y="993.84" font-size="18.5" text-anchor="middle" font-family='"Liberation Serif", serif' fill="#1a1a1a">4</text>
<text x="804.8" y="927.86" font-size="18.5" text-anchor="middle" font-family='"Liberation Serif", serif' fill="#1a1a1a">0</text><text x="812.1" y="927.86" font-size="18.5" text-anchor="middle" font-family='"Liberation Serif", serif' fill="#1a1a1a">.</text><text x="822.8" y="927.86" font-size="18.5" text-anchor="middle" font-family='"Liberation Serif", serif' fill="#1a1a1a">6</text>
<text x="804.8" y="861.88" font-size="18.5" text-anchor="middle" font-family='"Liberation Serif", serif' fill="#1a1a1a">0</text><text x="812.1" y="861.88" font-size="18.5" text-anchor="middle" font-family='"Liberation Serif", serif' fill="#1a1a1a">.</text><text x="822.8" y="861.88" font-size="18.5" text-anchor="middle" font-family='"Liberation Serif", serif' fill="#1a1a1a">8</text>
<text x="804.8" y="795.9" font-size="18.5" text-anchor="middle" font-family='"Liberation Serif", serif' fill="#1a1a1a">1</text><text x="812.1" y="795.9" font-size="18.5" text-anchor="middle" font-family='"Liberation Serif", serif' fill="#1a1a1a">.</text><text x="822.8" y="795.9" font-size="18.5" text-anchor="middle" font-family='"Liberation Serif", serif' fill="#1a1a1a">0</text>
<text x="804.8" y="729.92" font-size="18.5" text-anchor="middle" font-family='"Liberation Serif", serif' fill="#1a1a1a">1</text><text x="812.1" y="729.92" font-size="18.5" text-anchor="middle" font-family='"Liberation Serif", serif' fill="#1a1a1a">.</text><text x="822.8" y="729.92" font-size="18.5" text-anchor="middle" font-family='"Liberation Serif", serif' fill="#1a1a1a">2</text>
<line x1="841.9" y1="1150.79" x2="841.9" y2="1158.99" stroke="#000" stroke-width="1.8" stroke-linecap="butt"/>
<line x1="895.42" y1="1150.79" x2="895.42" y2="1154.79" stroke="#000" stroke-width="1.8" stroke-linecap="butt"/>
<line x1="948.94" y1="1150.79" x2="948.94" y2="1158.99" stroke="#000" stroke-width="1.8" stroke-linecap="butt"/>
<line x1="1002.46" y1="1150.79" x2="1002.46" y2="1154.79" stroke="#000" stroke-width="1.8" stroke-linecap="butt"/>
<line x1="1055.98" y1="1150.79" x2="1055.98" y2="1158.99" stroke="#000" stroke-width="1.8" stroke-linecap="butt"/>
<line x1="1109.5" y1="1150.79" x2="1109.5" y2="1154.79" stroke="#000" stroke-width="1.8" stroke-linecap="butt"/>
<line x1="1163.02" y1="1150.79" x2="1163.02" y2="1158.99" stroke="#000" stroke-width="1.8" stroke-linecap="butt"/>
<line x1="1216.54" y1="1150.79" x2="1216.54" y2="1154.79" stroke="#000" stroke-width="1.8" stroke-linecap="butt"/>
<line x1="1270.06" y1="1150.79" x2="1270.06" y2="1158.99" stroke="#000" stroke-width="1.8" stroke-linecap="butt"/>
<line x1="1323.58" y1="1150.79" x2="1323.58" y2="1154.79" stroke="#000" stroke-width="1.8" stroke-linecap="butt"/>
<line x1="1377.1" y1="1150.79" x2="1377.1" y2="1158.99" stroke="#000" stroke-width="1.8" stroke-linecap="butt"/>
<text x="832.9" y="1180.59" font-size="18.5" text-anchor="middle" font-family='"Liberation Serif", serif' fill="#1a1a1a">0</text><text x="840.2" y="1180.59" font-size="18.5" text-anchor="middle" font-family='"Liberation Serif", serif' fill="#1a1a1a">.</text><text x="850.9" y="1180.59" font-size="18.5" text-anchor="middle" font-family='"Liberation Serif", serif' fill="#1a1a1a">0</text>
<text x="939.94" y="1180.59" font-size="18.5" text-anchor="middle" font-family='"Liberation Serif", serif' fill="#1a1a1a">0</text><text x="947.24" y="1180.59" font-size="18.5" text-anchor="middle" font-family='"Liberation Serif", serif' fill="#1a1a1a">.</text><text x="957.94" y="1180.59" font-size="18.5" text-anchor="middle" font-family='"Liberation Serif", serif' fill="#1a1a1a">2</text>
<text x="1046.98" y="1180.59" font-size="18.5" text-anchor="middle" font-family='"Liberation Serif", serif' fill="#1a1a1a">0</text><text x="1054.28" y="1180.59" font-size="18.5" text-anchor="middle" font-family='"Liberation Serif", serif' fill="#1a1a1a">.</text><text x="1064.98" y="1180.59" font-size="18.5" text-anchor="middle" font-family='"Liberation Serif", serif' fill="#1a1a1a">4</text>
<text x="1154.02" y="1180.59" font-size="18.5" text-anchor="middle" font-family='"Liberation Serif", serif' fill="#1a1a1a">0</text><text x="1161.32" y="1180.59" font-size="18.5" text-anchor="middle" font-family='"Liberation Serif", serif' fill="#1a1a1a">.</text><text x="1172.02" y="1180.59" font-size="18.5" text-anchor="middle" font-family='"Liberation Serif", serif' fill="#1a1a1a">6</text>
<text x="1261.06" y="1180.59" font-size="18.5" text-anchor="middle" font-family='"Liberation Serif", serif' fill="#1a1a1a">0</text><text x="1268.36" y="1180.59" font-size="18.5" text-anchor="middle" font-family='"Liberation Serif", serif' fill="#1a1a1a">.</text><text x="1279.06" y="1180.59" font-size="18.5" text-anchor="middle" font-family='"Liberation Serif", serif' fill="#1a1a1a">8</text>
<text x="1368.1" y="1180.59" font-size="18.5" text-anchor="middle" font-family='"Liberation Serif", serif' fill="#1a1a1a">1</text><text x="1375.4" y="1180.59" font-size="18.5" text-anchor="middle" font-family='"Liberation Serif", serif' fill="#1a1a1a">.</text><text x="1386.1" y="1180.59" font-size="18.5" text-anchor="middle" font-family='"Liberation Serif", serif' fill="#1a1a1a">0</text>
<text x="1109.7" y="1211.29" font-size="22" text-anchor="middle" font-family='"Liberation Sans", sans-serif' fill="#000" letter-spacing="0.33">Actual MR</text>
<text x="0" y="0" font-size="22" text-anchor="middle" font-family='"Liberation Sans", sans-serif' transform="translate(791 936.36) rotate(-90)">Predicted MR</text>
<circle cx="1297.4" cy="704.92" r="4.15" fill="#ff0000"/>
<text x="1327.9" y="712.82" font-size="22" text-anchor="start" font-family='"Liberation Sans", sans-serif' fill="#000">45</text>
<circle cx="1364.45" cy="698.22" r="1.75" fill="none" stroke="#000" stroke-width="0.95"/><path d="M1378.47 700.34A6.2 7.45 0 1 0 1378.53 708.99" fill="none" stroke="#000" stroke-width="1.25"/><path d="M1370.04 698.54A6.2 7.45 0 0 0 1370.04 710.9" fill="none" stroke="#000" stroke-width="0.88"/><line x1="1378.82" y1="698.94" x2="1378.82" y2="702.34" stroke="#000" stroke-width="1"/>
<text x="1116.6" y="1273.7" font-size="51.8" text-anchor="middle" font-family='"Liberation Serif", serif' fill="#000" transform="translate(1116.6 0) scale(0.95 1) translate(-1116.6 0)">C2</text>
<g clip-path="url(#clipC3)"><path d="M72 1762.25L77.05 1767.3L72 1772.35L66.95 1767.3Z" fill="#008a00"/><path d="M74.3 1775.95L79.35 1781L74.3 1786.05L69.25 1781Z" fill="#008a00"/><path d="M79 1779.65L84.05 1784.7L79 1789.75L73.95 1784.7Z" fill="#008a00"/><path d="M85.7 1776.05L90.75 1781.1L85.7 1786.15L80.65 1781.1Z" fill="#008a00"/><path d="M96.3 1764.95L101.35 1770L96.3 1775.05L91.25 1770Z" fill="#008a00"/><path d="M112.4 1747.55L117.45 1752.6L112.4 1757.65L107.35 1752.6Z" fill="#008a00"/><path d="M138.9 1725.75L143.95 1730.8L138.9 1735.85L133.85 1730.8Z" fill="#008a00"/><path d="M178.1 1698.75L183.15 1703.8L178.1 1708.85L173.05 1703.8Z" fill="#008a00"/><path d="M229.2 1668.55L234.25 1673.6L229.2 1678.65L224.15 1673.6Z" fill="#008a00"/><path d="M289.5 1635.35L294.55 1640.4L289.5 1645.45L284.45 1640.4Z" fill="#008a00"/><path d="M320.8 1618.75L325.85 1623.8L320.8 1628.85L315.75 1623.8Z" fill="#008a00"/><path d="M352.4 1601.65L357.45 1606.7L352.4 1611.75L347.35 1606.7Z" fill="#008a00"/><path d="M383.3 1584.35L388.35 1589.4L383.3 1594.45L378.25 1589.4Z" fill="#008a00"/><path d="M414.1 1566.95L419.15 1572L414.1 1577.05L409.05 1572Z" fill="#008a00"/><path d="M444.8 1549.65L449.85 1554.7L444.8 1559.75L439.75 1554.7Z" fill="#008a00"/><path d="M473.5 1532.65L478.55 1537.7L473.5 1542.75L468.45 1537.7Z" fill="#008a00"/><path d="M500.7 1515.35L505.75 1520.4L500.7 1525.45L495.65 1520.4Z" fill="#008a00"/><path d="M524.4 1499.25L529.45 1504.3L524.4 1509.35L519.35 1504.3Z" fill="#008a00"/><path d="M546.6 1482.45L551.65 1487.5L546.6 1492.55L541.55 1487.5Z" fill="#008a00"/><path d="M568.2 1467.25L573.25 1472.3L568.2 1477.35L563.15 1472.3Z" fill="#008a00"/><path d="M586.8 1452.15L591.85 1457.2L586.8 1462.25L581.75 1457.2Z" fill="#008a00"/><path d="M605 1438.35L610.05 1443.4L605 1448.45L599.95 1443.4Z" fill="#008a00"/><line x1="72" y1="1779.1" x2="605.8" y2="1449.2" stroke="#000" stroke-width="2"/></g>
<line x1="72" y1="1383.22" x2="72" y2="1813.04" stroke="#000" stroke-width="1.9" stroke-linecap="butt"/>
<line x1="71.05" y1="1812.09" x2="606.75" y2="1812.09" stroke="#000" stroke-width="1.9" stroke-linecap="butt"/>
<line x1="67.4" y1="1812.09" x2="72" y2="1812.09" stroke="#000" stroke-width="1.8" stroke-linecap="butt"/>
<line x1="63.4" y1="1779.1" x2="72" y2="1779.1" stroke="#000" stroke-width="1.8" stroke-linecap="butt"/>
<line x1="67.4" y1="1746.11" x2="72" y2="1746.11" stroke="#000" stroke-width="1.8" stroke-linecap="butt"/>
<line x1="63.4" y1="1713.12" x2="72" y2="1713.12" stroke="#000" stroke-width="1.8" stroke-linecap="butt"/>
<line x1="67.4" y1="1680.13" x2="72" y2="1680.13" stroke="#000" stroke-width="1.8" stroke-linecap="butt"/>
<line x1="63.4" y1="1647.14" x2="72" y2="1647.14" stroke="#000" stroke-width="1.8" stroke-linecap="butt"/>
<line x1="67.4" y1="1614.15" x2="72" y2="1614.15" stroke="#000" stroke-width="1.8" stroke-linecap="butt"/>
<line x1="63.4" y1="1581.16" x2="72" y2="1581.16" stroke="#000" stroke-width="1.8" stroke-linecap="butt"/>
<line x1="67.4" y1="1548.17" x2="72" y2="1548.17" stroke="#000" stroke-width="1.8" stroke-linecap="butt"/>
<line x1="63.4" y1="1515.18" x2="72" y2="1515.18" stroke="#000" stroke-width="1.8" stroke-linecap="butt"/>
<line x1="67.4" y1="1482.19" x2="72" y2="1482.19" stroke="#000" stroke-width="1.8" stroke-linecap="butt"/>
<line x1="63.4" y1="1449.2" x2="72" y2="1449.2" stroke="#000" stroke-width="1.8" stroke-linecap="butt"/>
<line x1="67.4" y1="1416.21" x2="72" y2="1416.21" stroke="#000" stroke-width="1.8" stroke-linecap="butt"/>
<line x1="63.4" y1="1383.22" x2="72" y2="1383.22" stroke="#000" stroke-width="1.8" stroke-linecap="butt"/>
<text x="34.9" y="1787.1" font-size="18.5" text-anchor="middle" font-family='"Liberation Serif", serif' fill="#1a1a1a">0</text><text x="42.2" y="1787.1" font-size="18.5" text-anchor="middle" font-family='"Liberation Serif", serif' fill="#1a1a1a">.</text><text x="52.9" y="1787.1" font-size="18.5" text-anchor="middle" font-family='"Liberation Serif", serif' fill="#1a1a1a">0</text>
<text x="34.9" y="1721.12" font-size="18.5" text-anchor="middle" font-family='"Liberation Serif", serif' fill="#1a1a1a">0</text><text x="42.2" y="1721.12" font-size="18.5" text-anchor="middle" font-family='"Liberation Serif", serif' fill="#1a1a1a">.</text><text x="52.9" y="1721.12" font-size="18.5" text-anchor="middle" font-family='"Liberation Serif", serif' fill="#1a1a1a">2</text>
<text x="34.9" y="1655.14" font-size="18.5" text-anchor="middle" font-family='"Liberation Serif", serif' fill="#1a1a1a">0</text><text x="42.2" y="1655.14" font-size="18.5" text-anchor="middle" font-family='"Liberation Serif", serif' fill="#1a1a1a">.</text><text x="52.9" y="1655.14" font-size="18.5" text-anchor="middle" font-family='"Liberation Serif", serif' fill="#1a1a1a">4</text>
<text x="34.9" y="1589.16" font-size="18.5" text-anchor="middle" font-family='"Liberation Serif", serif' fill="#1a1a1a">0</text><text x="42.2" y="1589.16" font-size="18.5" text-anchor="middle" font-family='"Liberation Serif", serif' fill="#1a1a1a">.</text><text x="52.9" y="1589.16" font-size="18.5" text-anchor="middle" font-family='"Liberation Serif", serif' fill="#1a1a1a">6</text>
<text x="34.9" y="1523.18" font-size="18.5" text-anchor="middle" font-family='"Liberation Serif", serif' fill="#1a1a1a">0</text><text x="42.2" y="1523.18" font-size="18.5" text-anchor="middle" font-family='"Liberation Serif", serif' fill="#1a1a1a">.</text><text x="52.9" y="1523.18" font-size="18.5" text-anchor="middle" font-family='"Liberation Serif", serif' fill="#1a1a1a">8</text>
<text x="34.9" y="1457.2" font-size="18.5" text-anchor="middle" font-family='"Liberation Serif", serif' fill="#1a1a1a">1</text><text x="42.2" y="1457.2" font-size="18.5" text-anchor="middle" font-family='"Liberation Serif", serif' fill="#1a1a1a">.</text><text x="52.9" y="1457.2" font-size="18.5" text-anchor="middle" font-family='"Liberation Serif", serif' fill="#1a1a1a">0</text>
<text x="34.9" y="1391.22" font-size="18.5" text-anchor="middle" font-family='"Liberation Serif", serif' fill="#1a1a1a">1</text><text x="42.2" y="1391.22" font-size="18.5" text-anchor="middle" font-family='"Liberation Serif", serif' fill="#1a1a1a">.</text><text x="52.9" y="1391.22" font-size="18.5" text-anchor="middle" font-family='"Liberation Serif", serif' fill="#1a1a1a">2</text>
<line x1="72" y1="1812.09" x2="72" y2="1820.29" stroke="#000" stroke-width="1.8" stroke-linecap="butt"/>
<line x1="125.38" y1="1812.09" x2="125.38" y2="1816.09" stroke="#000" stroke-width="1.8" stroke-linecap="butt"/>
<line x1="178.76" y1="1812.09" x2="178.76" y2="1820.29" stroke="#000" stroke-width="1.8" stroke-linecap="butt"/>
<line x1="232.14" y1="1812.09" x2="232.14" y2="1816.09" stroke="#000" stroke-width="1.8" stroke-linecap="butt"/>
<line x1="285.52" y1="1812.09" x2="285.52" y2="1820.29" stroke="#000" stroke-width="1.8" stroke-linecap="butt"/>
<line x1="338.9" y1="1812.09" x2="338.9" y2="1816.09" stroke="#000" stroke-width="1.8" stroke-linecap="butt"/>
<line x1="392.28" y1="1812.09" x2="392.28" y2="1820.29" stroke="#000" stroke-width="1.8" stroke-linecap="butt"/>
<line x1="445.66" y1="1812.09" x2="445.66" y2="1816.09" stroke="#000" stroke-width="1.8" stroke-linecap="butt"/>
<line x1="499.04" y1="1812.09" x2="499.04" y2="1820.29" stroke="#000" stroke-width="1.8" stroke-linecap="butt"/>
<line x1="552.42" y1="1812.09" x2="552.42" y2="1816.09" stroke="#000" stroke-width="1.8" stroke-linecap="butt"/>
<line x1="605.8" y1="1812.09" x2="605.8" y2="1820.29" stroke="#000" stroke-width="1.8" stroke-linecap="butt"/>
<text x="63" y="1841.89" font-size="18.5" text-anchor="middle" font-family='"Liberation Serif", serif' fill="#1a1a1a">0</text><text x="70.3" y="1841.89" font-size="18.5" text-anchor="middle" font-family='"Liberation Serif", serif' fill="#1a1a1a">.</text><text x="81" y="1841.89" font-size="18.5" text-anchor="middle" font-family='"Liberation Serif", serif' fill="#1a1a1a">0</text>
<text x="169.76" y="1841.89" font-size="18.5" text-anchor="middle" font-family='"Liberation Serif", serif' fill="#1a1a1a">0</text><text x="177.06" y="1841.89" font-size="18.5" text-anchor="middle" font-family='"Liberation Serif", serif' fill="#1a1a1a">.</text><text x="187.76" y="1841.89" font-size="18.5" text-anchor="middle" font-family='"Liberation Serif", serif' fill="#1a1a1a">2</text>
<text x="276.52" y="1841.89" font-size="18.5" text-anchor="middle" font-family='"Liberation Serif", serif' fill="#1a1a1a">0</text><text x="283.82" y="1841.89" font-size="18.5" text-anchor="middle" font-family='"Liberation Serif", serif' fill="#1a1a1a">.</text><text x="294.52" y="1841.89" font-size="18.5" text-anchor="middle" font-family='"Liberation Serif", serif' fill="#1a1a1a">4</text>
<text x="383.28" y="1841.89" font-size="18.5" text-anchor="middle" font-family='"Liberation Serif", serif' fill="#1a1a1a">0</text><text x="390.58" y="1841.89" font-size="18.5" text-anchor="middle" font-family='"Liberation Serif", serif' fill="#1a1a1a">.</text><text x="401.28" y="1841.89" font-size="18.5" text-anchor="middle" font-family='"Liberation Serif", serif' fill="#1a1a1a">6</text>
<text x="490.04" y="1841.89" font-size="18.5" text-anchor="middle" font-family='"Liberation Serif", serif' fill="#1a1a1a">0</text><text x="497.34" y="1841.89" font-size="18.5" text-anchor="middle" font-family='"Liberation Serif", serif' fill="#1a1a1a">.</text><text x="508.04" y="1841.89" font-size="18.5" text-anchor="middle" font-family='"Liberation Serif", serif' fill="#1a1a1a">8</text>
<text x="596.8" y="1841.89" font-size="18.5" text-anchor="middle" font-family='"Liberation Serif", serif' fill="#1a1a1a">1</text><text x="604.1" y="1841.89" font-size="18.5" text-anchor="middle" font-family='"Liberation Serif", serif' fill="#1a1a1a">.</text><text x="614.8" y="1841.89" font-size="18.5" text-anchor="middle" font-family='"Liberation Serif", serif' fill="#1a1a1a">0</text>
<text x="339.1" y="1872.59" font-size="22" text-anchor="middle" font-family='"Liberation Sans", sans-serif' fill="#000" letter-spacing="0.33">Actual MR</text>
<text x="0" y="0" font-size="22" text-anchor="middle" font-family='"Liberation Sans", sans-serif' transform="translate(21.1 1597.65) rotate(-90)">Predicted MR</text>
<path d="M527.5 1361.17L532.6 1366.22L527.5 1371.27L522.4 1366.22Z" fill="#008a00"/>
<text x="558" y="1374.12" font-size="22" text-anchor="start" font-family='"Liberation Sans", sans-serif' fill="#000">55</text>
<circle cx="594.55" cy="1359.52" r="1.75" fill="none" stroke="#000" stroke-width="0.95"/><path d="M608.57 1361.64A6.2 7.45 0 1 0 608.63 1370.29" fill="none" stroke="#000" stroke-width="1.25"/><path d="M600.14 1359.84A6.2 7.45 0 0 0 600.14 1372.2" fill="none" stroke="#000" stroke-width="0.88"/><line x1="608.92" y1="1360.24" x2="608.92" y2="1363.64" stroke="#000" stroke-width="1"/>
<text x="335.9" y="1935.7" font-size="51.8" text-anchor="middle" font-family='"Liberation Serif", serif' fill="#000" transform="translate(335.9 0) scale(0.95 1) translate(-335.9 0)">C3</text>
<g clip-path="url(#clipC4)"><path d="M841.7 1759.2L850.9 1759.2L846.3 1767.8Z" fill="#ff0080"/><path d="M843.5 1782.7L852.7 1782.7L848.1 1791.3Z" fill="#ff0080"/><path d="M850.8 1786.7L860 1786.7L855.4 1795.3Z" fill="#ff0080"/><path d="M846.1 1791.3L855.3 1791.3L850.7 1799.9Z" fill="#ff0080"/><path d="M859.6 1770.5L868.8 1770.5L864.2 1779.1Z" fill="#ff0080"/><path d="M878.8 1744.1L888 1744.1L883.4 1752.7Z" fill="#ff0080"/><path d="M918.2 1710.5L927.4 1710.5L922.8 1719.1Z" fill="#ff0080"/><path d="M953.3 1690.7L962.5 1690.7L957.9 1699.3Z" fill="#ff0080"/><path d="M994.1 1669.7L1003.3 1669.7L998.7 1678.3Z" fill="#ff0080"/><path d="M1041.5 1647L1050.7 1647L1046.1 1655.6Z" fill="#ff0080"/><path d="M1088.6 1624.3L1097.8 1624.3L1093.2 1632.9Z" fill="#ff0080"/><path d="M1135.3 1600.3L1144.5 1600.3L1139.9 1608.9Z" fill="#ff0080"/><path d="M1180.3 1576L1189.5 1576L1184.9 1584.6Z" fill="#ff0080"/><path d="M1226.1 1551.1L1235.3 1551.1L1230.7 1559.7Z" fill="#ff0080"/><path d="M1270.3 1526.6L1279.5 1526.6L1274.9 1535.2Z" fill="#ff0080"/><path d="M1301.1 1502.1L1310.3 1502.1L1305.7 1510.7Z" fill="#ff0080"/><path d="M1328.5 1477.8L1337.7 1477.8L1333.1 1486.4Z" fill="#ff0080"/><path d="M1353.4 1453.5L1362.6 1453.5L1358 1462.1Z" fill="#ff0080"/><path d="M1375.4 1430.6L1384.6 1430.6L1380 1439.2Z" fill="#ff0080"/><line x1="846.4" y1="1779.3" x2="1380.4" y2="1448.41" stroke="#000" stroke-width="2"/></g>
<line x1="846.4" y1="1383.42" x2="846.4" y2="1813.24" stroke="#000" stroke-width="1.9" stroke-linecap="butt"/>
<line x1="845.45" y1="1812.29" x2="1381.35" y2="1812.29" stroke="#000" stroke-width="1.9" stroke-linecap="butt"/>
<line x1="841.8" y1="1812.29" x2="846.4" y2="1812.29" stroke="#000" stroke-width="1.8" stroke-linecap="butt"/>
<line x1="837.8" y1="1779.3" x2="846.4" y2="1779.3" stroke="#000" stroke-width="1.8" stroke-linecap="butt"/>
<line x1="841.8" y1="1746.31" x2="846.4" y2="1746.31" stroke="#000" stroke-width="1.8" stroke-linecap="butt"/>
<line x1="837.8" y1="1713.32" x2="846.4" y2="1713.32" stroke="#000" stroke-width="1.8" stroke-linecap="butt"/>
<line x1="841.8" y1="1680.33" x2="846.4" y2="1680.33" stroke="#000" stroke-width="1.8" stroke-linecap="butt"/>
<line x1="837.8" y1="1647.34" x2="846.4" y2="1647.34" stroke="#000" stroke-width="1.8" stroke-linecap="butt"/>
<line x1="841.8" y1="1614.35" x2="846.4" y2="1614.35" stroke="#000" stroke-width="1.8" stroke-linecap="butt"/>
<line x1="837.8" y1="1581.36" x2="846.4" y2="1581.36" stroke="#000" stroke-width="1.8" stroke-linecap="butt"/>
<line x1="841.8" y1="1548.37" x2="846.4" y2="1548.37" stroke="#000" stroke-width="1.8" stroke-linecap="butt"/>
<line x1="837.8" y1="1515.38" x2="846.4" y2="1515.38" stroke="#000" stroke-width="1.8" stroke-linecap="butt"/>
<line x1="841.8" y1="1482.39" x2="846.4" y2="1482.39" stroke="#000" stroke-width="1.8" stroke-linecap="butt"/>
<line x1="837.8" y1="1449.4" x2="846.4" y2="1449.4" stroke="#000" stroke-width="1.8" stroke-linecap="butt"/>
<line x1="841.8" y1="1416.41" x2="846.4" y2="1416.41" stroke="#000" stroke-width="1.8" stroke-linecap="butt"/>
<line x1="837.8" y1="1383.42" x2="846.4" y2="1383.42" stroke="#000" stroke-width="1.8" stroke-linecap="butt"/>
<text x="809.3" y="1787.3" font-size="18.5" text-anchor="middle" font-family='"Liberation Serif", serif' fill="#1a1a1a">0</text><text x="816.6" y="1787.3" font-size="18.5" text-anchor="middle" font-family='"Liberation Serif", serif' fill="#1a1a1a">.</text><text x="827.3" y="1787.3" font-size="18.5" text-anchor="middle" font-family='"Liberation Serif", serif' fill="#1a1a1a">0</text>
<text x="809.3" y="1721.32" font-size="18.5" text-anchor="middle" font-family='"Liberation Serif", serif' fill="#1a1a1a">0</text><text x="816.6" y="1721.32" font-size="18.5" text-anchor="middle" font-family='"Liberation Serif", serif' fill="#1a1a1a">.</text><text x="827.3" y="1721.32" font-size="18.5" text-anchor="middle" font-family='"Liberation Serif", serif' fill="#1a1a1a">2</text>
<text x="809.3" y="1655.34" font-size="18.5" text-anchor="middle" font-family='"Liberation Serif", serif' fill="#1a1a1a">0</text><text x="816.6" y="1655.34" font-size="18.5" text-anchor="middle" font-family='"Liberation Serif", serif' fill="#1a1a1a">.</text><text x="827.3" y="1655.34" font-size="18.5" text-anchor="middle" font-family='"Liberation Serif", serif' fill="#1a1a1a">4</text>
<text x="809.3" y="1589.36" font-size="18.5" text-anchor="middle" font-family='"Liberation Serif", serif' fill="#1a1a1a">0</text><text x="816.6" y="1589.36" font-size="18.5" text-anchor="middle" font-family='"Liberation Serif", serif' fill="#1a1a1a">.</text><text x="827.3" y="1589.36" font-size="18.5" text-anchor="middle" font-family='"Liberation Serif", serif' fill="#1a1a1a">6</text>
<text x="809.3" y="1523.38" font-size="18.5" text-anchor="middle" font-family='"Liberation Serif", serif' fill="#1a1a1a">0</text><text x="816.6" y="1523.38" font-size="18.5" text-anchor="middle" font-family='"Liberation Serif", serif' fill="#1a1a1a">.</text><text x="827.3" y="1523.38" font-size="18.5" text-anchor="middle" font-family='"Liberation Serif", serif' fill="#1a1a1a">8</text>
<text x="809.3" y="1457.4" font-size="18.5" text-anchor="middle" font-family='"Liberation Serif", serif' fill="#1a1a1a">1</text><text x="816.6" y="1457.4" font-size="18.5" text-anchor="middle" font-family='"Liberation Serif", serif' fill="#1a1a1a">.</text><text x="827.3" y="1457.4" font-size="18.5" text-anchor="middle" font-family='"Liberation Serif", serif' fill="#1a1a1a">0</text>
<text x="809.3" y="1391.42" font-size="18.5" text-anchor="middle" font-family='"Liberation Serif", serif' fill="#1a1a1a">1</text><text x="816.6" y="1391.42" font-size="18.5" text-anchor="middle" font-family='"Liberation Serif", serif' fill="#1a1a1a">.</text><text x="827.3" y="1391.42" font-size="18.5" text-anchor="middle" font-family='"Liberation Serif", serif' fill="#1a1a1a">2</text>
<line x1="846.4" y1="1812.29" x2="846.4" y2="1820.49" stroke="#000" stroke-width="1.8" stroke-linecap="butt"/>
<line x1="899.8" y1="1812.29" x2="899.8" y2="1816.29" stroke="#000" stroke-width="1.8" stroke-linecap="butt"/>
<line x1="953.2" y1="1812.29" x2="953.2" y2="1820.49" stroke="#000" stroke-width="1.8" stroke-linecap="butt"/>
<line x1="1006.6" y1="1812.29" x2="1006.6" y2="1816.29" stroke="#000" stroke-width="1.8" stroke-linecap="butt"/>
<line x1="1060" y1="1812.29" x2="1060" y2="1820.49" stroke="#000" stroke-width="1.8" stroke-linecap="butt"/>
<line x1="1113.4" y1="1812.29" x2="1113.4" y2="1816.29" stroke="#000" stroke-width="1.8" stroke-linecap="butt"/>
<line x1="1166.8" y1="1812.29" x2="1166.8" y2="1820.49" stroke="#000" stroke-width="1.8" stroke-linecap="butt"/>
<line x1="1220.2" y1="1812.29" x2="1220.2" y2="1816.29" stroke="#000" stroke-width="1.8" stroke-linecap="butt"/>
<line x1="1273.6" y1="1812.29" x2="1273.6" y2="1820.49" stroke="#000" stroke-width="1.8" stroke-linecap="butt"/>
<line x1="1327" y1="1812.29" x2="1327" y2="1816.29" stroke="#000" stroke-width="1.8" stroke-linecap="butt"/>
<line x1="1380.4" y1="1812.29" x2="1380.4" y2="1820.49" stroke="#000" stroke-width="1.8" stroke-linecap="butt"/>
<text x="837.4" y="1842.09" font-size="18.5" text-anchor="middle" font-family='"Liberation Serif", serif' fill="#1a1a1a">0</text><text x="844.7" y="1842.09" font-size="18.5" text-anchor="middle" font-family='"Liberation Serif", serif' fill="#1a1a1a">.</text><text x="855.4" y="1842.09" font-size="18.5" text-anchor="middle" font-family='"Liberation Serif", serif' fill="#1a1a1a">0</text>
<text x="944.2" y="1842.09" font-size="18.5" text-anchor="middle" font-family='"Liberation Serif", serif' fill="#1a1a1a">0</text><text x="951.5" y="1842.09" font-size="18.5" text-anchor="middle" font-family='"Liberation Serif", serif' fill="#1a1a1a">.</text><text x="962.2" y="1842.09" font-size="18.5" text-anchor="middle" font-family='"Liberation Serif", serif' fill="#1a1a1a">2</text>
<text x="1051" y="1842.09" font-size="18.5" text-anchor="middle" font-family='"Liberation Serif", serif' fill="#1a1a1a">0</text><text x="1058.3" y="1842.09" font-size="18.5" text-anchor="middle" font-family='"Liberation Serif", serif' fill="#1a1a1a">.</text><text x="1069" y="1842.09" font-size="18.5" text-anchor="middle" font-family='"Liberation Serif", serif' fill="#1a1a1a">4</text>
<text x="1157.8" y="1842.09" font-size="18.5" text-anchor="middle" font-family='"Liberation Serif", serif' fill="#1a1a1a">0</text><text x="1165.1" y="1842.09" font-size="18.5" text-anchor="middle" font-family='"Liberation Serif", serif' fill="#1a1a1a">.</text><text x="1175.8" y="1842.09" font-size="18.5" text-anchor="middle" font-family='"Liberation Serif", serif' fill="#1a1a1a">6</text>
<text x="1264.6" y="1842.09" font-size="18.5" text-anchor="middle" font-family='"Liberation Serif", serif' fill="#1a1a1a">0</text><text x="1271.9" y="1842.09" font-size="18.5" text-anchor="middle" font-family='"Liberation Serif", serif' fill="#1a1a1a">.</text><text x="1282.6" y="1842.09" font-size="18.5" text-anchor="middle" font-family='"Liberation Serif", serif' fill="#1a1a1a">8</text>
<text x="1371.4" y="1842.09" font-size="18.5" text-anchor="middle" font-family='"Liberation Serif", serif' fill="#1a1a1a">1</text><text x="1378.7" y="1842.09" font-size="18.5" text-anchor="middle" font-family='"Liberation Serif", serif' fill="#1a1a1a">.</text><text x="1389.4" y="1842.09" font-size="18.5" text-anchor="middle" font-family='"Liberation Serif", serif' fill="#1a1a1a">0</text>
<text x="1113.6" y="1872.79" font-size="22" text-anchor="middle" font-family='"Liberation Sans", sans-serif' fill="#000" letter-spacing="0.33">Actual MR</text>
<text x="0" y="0" font-size="22" text-anchor="middle" font-family='"Liberation Sans", sans-serif' transform="translate(795.5 1597.86) rotate(-90)">Predicted MR</text>
<path d="M1297.3 1363.52L1306.5 1363.52L1301.9 1372.22Z" fill="#ff0080"/>
<text x="1332.4" y="1374.32" font-size="22" text-anchor="start" font-family='"Liberation Sans", sans-serif' fill="#000">65</text>
<circle cx="1368.95" cy="1359.72" r="1.75" fill="none" stroke="#000" stroke-width="0.95"/><path d="M1382.97 1361.84A6.2 7.45 0 1 0 1383.03 1370.49" fill="none" stroke="#000" stroke-width="1.25"/><path d="M1374.54 1360.04A6.2 7.45 0 0 0 1374.54 1372.4" fill="none" stroke="#000" stroke-width="0.88"/><line x1="1383.32" y1="1360.44" x2="1383.32" y2="1363.84" stroke="#000" stroke-width="1"/>
<text x="1114.4" y="1935.7" font-size="51.8" text-anchor="middle" font-family='"Liberation Serif", serif' fill="#000" transform="translate(1114.4 0) scale(0.95 1) translate(-1114.4 0)">C4</text>
<g clip-path="url(#clipC5)"><path d="M71.95 2412L76.5 2420.4L67.4 2420.4Z" fill="#0000ff"/><path d="M73 2446.3L77.55 2454.7L68.45 2454.7Z" fill="#0000ff"/><path d="M76.6 2455.5L81.15 2463.9L72.05 2463.9Z" fill="#0000ff"/><path d="M74.2 2460.5L78.75 2468.9L69.65 2468.9Z" fill="#0000ff"/><path d="M83 2434.8L87.55 2443.2L78.45 2443.2Z" fill="#0000ff"/><path d="M96.4 2401.5L100.95 2409.9L91.85 2409.9Z" fill="#0000ff"/><path d="M117.7 2381.1L122.25 2389.5L113.15 2389.5Z" fill="#0000ff"/><path d="M155.6 2358L160.15 2366.4L151.05 2366.4Z" fill="#0000ff"/><path d="M211 2332.6L215.55 2341L206.45 2341Z" fill="#0000ff"/><path d="M269.8 2306.2L274.35 2314.6L265.25 2314.6Z" fill="#0000ff"/><path d="M337.1 2278.8L341.65 2287.2L332.55 2287.2Z" fill="#0000ff"/><path d="M397.2 2250.6L401.75 2259L392.65 2259Z" fill="#0000ff"/><path d="M452.8 2222.4L457.35 2230.8L448.25 2230.8Z" fill="#0000ff"/><path d="M495.5 2193.4L500.05 2201.8L490.95 2201.8Z" fill="#0000ff"/><path d="M530.7 2165.2L535.25 2173.6L526.15 2173.6Z" fill="#0000ff"/><path d="M561.5 2138.1L566.05 2146.5L556.95 2146.5Z" fill="#0000ff"/><path d="M586.1 2110.7L590.65 2119.1L581.55 2119.1Z" fill="#0000ff"/><path d="M605.2 2085.4L609.75 2093.8L600.65 2093.8Z" fill="#0000ff"/><line x1="72" y1="2440.9" x2="605.7" y2="2110.01" stroke="#000" stroke-width="2"/></g>
<line x1="72" y1="2045.02" x2="72" y2="2474.84" stroke="#000" stroke-width="1.9" stroke-linecap="butt"/>
<line x1="71.05" y1="2473.89" x2="606.65" y2="2473.89" stroke="#000" stroke-width="1.9" stroke-linecap="butt"/>
<line x1="67.4" y1="2473.89" x2="72" y2="2473.89" stroke="#000" stroke-width="1.8" stroke-linecap="butt"/>
<line x1="63.4" y1="2440.9" x2="72" y2="2440.9" stroke="#000" stroke-width="1.8" stroke-linecap="butt"/>
<line x1="67.4" y1="2407.91" x2="72" y2="2407.91" stroke="#000" stroke-width="1.8" stroke-linecap="butt"/>
<line x1="63.4" y1="2374.92" x2="72" y2="2374.92" stroke="#000" stroke-width="1.8" stroke-linecap="butt"/>
<line x1="67.4" y1="2341.93" x2="72" y2="2341.93" stroke="#000" stroke-width="1.8" stroke-linecap="butt"/>
<line x1="63.4" y1="2308.94" x2="72" y2="2308.94" stroke="#000" stroke-width="1.8" stroke-linecap="butt"/>
<line x1="67.4" y1="2275.95" x2="72" y2="2275.95" stroke="#000" stroke-width="1.8" stroke-linecap="butt"/>
<line x1="63.4" y1="2242.96" x2="72" y2="2242.96" stroke="#000" stroke-width="1.8" stroke-linecap="butt"/>
<line x1="67.4" y1="2209.97" x2="72" y2="2209.97" stroke="#000" stroke-width="1.8" stroke-linecap="butt"/>
<line x1="63.4" y1="2176.98" x2="72" y2="2176.98" stroke="#000" stroke-width="1.8" stroke-linecap="butt"/>
<line x1="67.4" y1="2143.99" x2="72" y2="2143.99" stroke="#000" stroke-width="1.8" stroke-linecap="butt"/>
<line x1="63.4" y1="2111" x2="72" y2="2111" stroke="#000" stroke-width="1.8" stroke-linecap="butt"/>
<line x1="67.4" y1="2078.01" x2="72" y2="2078.01" stroke="#000" stroke-width="1.8" stroke-linecap="butt"/>
<line x1="63.4" y1="2045.02" x2="72" y2="2045.02" stroke="#000" stroke-width="1.8" stroke-linecap="butt"/>
<text x="34.9" y="2448.9" font-size="18.5" text-anchor="middle" font-family='"Liberation Serif", serif' fill="#1a1a1a">0</text><text x="42.2" y="2448.9" font-size="18.5" text-anchor="middle" font-family='"Liberation Serif", serif' fill="#1a1a1a">.</text><text x="52.9" y="2448.9" font-size="18.5" text-anchor="middle" font-family='"Liberation Serif", serif' fill="#1a1a1a">0</text>
<text x="34.9" y="2382.92" font-size="18.5" text-anchor="middle" font-family='"Liberation Serif", serif' fill="#1a1a1a">0</text><text x="42.2" y="2382.92" font-size="18.5" text-anchor="middle" font-family='"Liberation Serif", serif' fill="#1a1a1a">.</text><text x="52.9" y="2382.92" font-size="18.5" text-anchor="middle" font-family='"Liberation Serif", serif' fill="#1a1a1a">2</text>
<text x="34.9" y="2316.94" font-size="18.5" text-anchor="middle" font-family='"Liberation Serif", serif' fill="#1a1a1a">0</text><text x="42.2" y="2316.94" font-size="18.5" text-anchor="middle" font-family='"Liberation Serif", serif' fill="#1a1a1a">.</text><text x="52.9" y="2316.94" font-size="18.5" text-anchor="middle" font-family='"Liberation Serif", serif' fill="#1a1a1a">4</text>
<text x="34.9" y="2250.96" font-size="18.5" text-anchor="middle" font-family='"Liberation Serif", serif' fill="#1a1a1a">0</text><text x="42.2" y="2250.96" font-size="18.5" text-anchor="middle" font-family='"Liberation Serif", serif' fill="#1a1a1a">.</text><text x="52.9" y="2250.96" font-size="18.5" text-anchor="middle" font-family='"Liberation Serif", serif' fill="#1a1a1a">6</text>
<text x="34.9" y="2184.98" font-size="18.5" text-anchor="middle" font-family='"Liberation Serif", serif' fill="#1a1a1a">0</text><text x="42.2" y="2184.98" font-size="18.5" text-anchor="middle" font-family='"Liberation Serif", serif' fill="#1a1a1a">.</text><text x="52.9" y="2184.98" font-size="18.5" text-anchor="middle" font-family='"Liberation Serif", serif' fill="#1a1a1a">8</text>
<text x="34.9" y="2119" font-size="18.5" text-anchor="middle" font-family='"Liberation Serif", serif' fill="#1a1a1a">1</text><text x="42.2" y="2119" font-size="18.5" text-anchor="middle" font-family='"Liberation Serif", serif' fill="#1a1a1a">.</text><text x="52.9" y="2119" font-size="18.5" text-anchor="middle" font-family='"Liberation Serif", serif' fill="#1a1a1a">0</text>
<text x="34.9" y="2053.02" font-size="18.5" text-anchor="middle" font-family='"Liberation Serif", serif' fill="#1a1a1a">1</text><text x="42.2" y="2053.02" font-size="18.5" text-anchor="middle" font-family='"Liberation Serif", serif' fill="#1a1a1a">.</text><text x="52.9" y="2053.02" font-size="18.5" text-anchor="middle" font-family='"Liberation Serif", serif' fill="#1a1a1a">2</text>
<line x1="72" y1="2473.89" x2="72" y2="2482.09" stroke="#000" stroke-width="1.8" stroke-linecap="butt"/>
<line x1="125.37" y1="2473.89" x2="125.37" y2="2477.89" stroke="#000" stroke-width="1.8" stroke-linecap="butt"/>
<line x1="178.74" y1="2473.89" x2="178.74" y2="2482.09" stroke="#000" stroke-width="1.8" stroke-linecap="butt"/>
<line x1="232.11" y1="2473.89" x2="232.11" y2="2477.89" stroke="#000" stroke-width="1.8" stroke-linecap="butt"/>
<line x1="285.48" y1="2473.89" x2="285.48" y2="2482.09" stroke="#000" stroke-width="1.8" stroke-linecap="butt"/>
<line x1="338.85" y1="2473.89" x2="338.85" y2="2477.89" stroke="#000" stroke-width="1.8" stroke-linecap="butt"/>
<line x1="392.22" y1="2473.89" x2="392.22" y2="2482.09" stroke="#000" stroke-width="1.8" stroke-linecap="butt"/>
<line x1="445.59" y1="2473.89" x2="445.59" y2="2477.89" stroke="#000" stroke-width="1.8" stroke-linecap="butt"/>
<line x1="498.96" y1="2473.89" x2="498.96" y2="2482.09" stroke="#000" stroke-width="1.8" stroke-linecap="butt"/>
<line x1="552.33" y1="2473.89" x2="552.33" y2="2477.89" stroke="#000" stroke-width="1.8" stroke-linecap="butt"/>
<line x1="605.7" y1="2473.89" x2="605.7" y2="2482.09" stroke="#000" stroke-width="1.8" stroke-linecap="butt"/>
<text x="63" y="2503.69" font-size="18.5" text-anchor="middle" font-family='"Liberation Serif", serif' fill="#1a1a1a">0</text><text x="70.3" y="2503.69" font-size="18.5" text-anchor="middle" font-family='"Liberation Serif", serif' fill="#1a1a1a">.</text><text x="81" y="2503.69" font-size="18.5" text-anchor="middle" font-family='"Liberation Serif", serif' fill="#1a1a1a">0</text>
<text x="169.74" y="2503.69" font-size="18.5" text-anchor="middle" font-family='"Liberation Serif", serif' fill="#1a1a1a">0</text><text x="177.04" y="2503.69" font-size="18.5" text-anchor="middle" font-family='"Liberation Serif", serif' fill="#1a1a1a">.</text><text x="187.74" y="2503.69" font-size="18.5" text-anchor="middle" font-family='"Liberation Serif", serif' fill="#1a1a1a">2</text>
<text x="276.48" y="2503.69" font-size="18.5" text-anchor="middle" font-family='"Liberation Serif", serif' fill="#1a1a1a">0</text><text x="283.78" y="2503.69" font-size="18.5" text-anchor="middle" font-family='"Liberation Serif", serif' fill="#1a1a1a">.</text><text x="294.48" y="2503.69" font-size="18.5" text-anchor="middle" font-family='"Liberation Serif", serif' fill="#1a1a1a">4</text>
<text x="383.22" y="2503.69" font-size="18.5" text-anchor="middle" font-family='"Liberation Serif", serif' fill="#1a1a1a">0</text><text x="390.52" y="2503.69" font-size="18.5" text-anchor="middle" font-family='"Liberation Serif", serif' fill="#1a1a1a">.</text><text x="401.22" y="2503.69" font-size="18.5" text-anchor="middle" font-family='"Liberation Serif", serif' fill="#1a1a1a">6</text>
<text x="489.96" y="2503.69" font-size="18.5" text-anchor="middle" font-family='"Liberation Serif", serif' fill="#1a1a1a">0</text><text x="497.26" y="2503.69" font-size="18.5" text-anchor="middle" font-family='"Liberation Serif", serif' fill="#1a1a1a">.</text><text x="507.96" y="2503.69" font-size="18.5" text-anchor="middle" font-family='"Liberation Serif", serif' fill="#1a1a1a">8</text>
<text x="596.7" y="2503.69" font-size="18.5" text-anchor="middle" font-family='"Liberation Serif", serif' fill="#1a1a1a">1</text><text x="604" y="2503.69" font-size="18.5" text-anchor="middle" font-family='"Liberation Serif", serif' fill="#1a1a1a">.</text><text x="614.7" y="2503.69" font-size="18.5" text-anchor="middle" font-family='"Liberation Serif", serif' fill="#1a1a1a">0</text>
<text x="339.05" y="2534.39" font-size="22" text-anchor="middle" font-family='"Liberation Sans", sans-serif' fill="#000" letter-spacing="0.33">Actual MR</text>
<text x="0" y="0" font-size="22" text-anchor="middle" font-family='"Liberation Sans", sans-serif' transform="translate(21.1 2259.45) rotate(-90)">Predicted MR</text>
<path d="M527.5 2022.47L532.05 2030.77L522.95 2030.77Z" fill="#0000ff"/>
<text x="558" y="2035.92" font-size="22" text-anchor="start" font-family='"Liberation Sans", sans-serif' fill="#000">75</text>
<circle cx="594.55" cy="2021.32" r="1.75" fill="none" stroke="#000" stroke-width="0.95"/><path d="M608.57 2023.44A6.2 7.45 0 1 0 608.63 2032.09" fill="none" stroke="#000" stroke-width="1.25"/><path d="M600.14 2021.64A6.2 7.45 0 0 0 600.14 2034" fill="none" stroke="#000" stroke-width="0.88"/><line x1="608.92" y1="2022.04" x2="608.92" y2="2025.44" stroke="#000" stroke-width="1"/>
<text x="333" y="2591.5" font-size="51.8" text-anchor="middle" font-family='"Liberation Serif", serif' fill="#000" transform="translate(333 0) scale(0.95 1) translate(-333 0)">C5</text>
</svg>
</body></html>
